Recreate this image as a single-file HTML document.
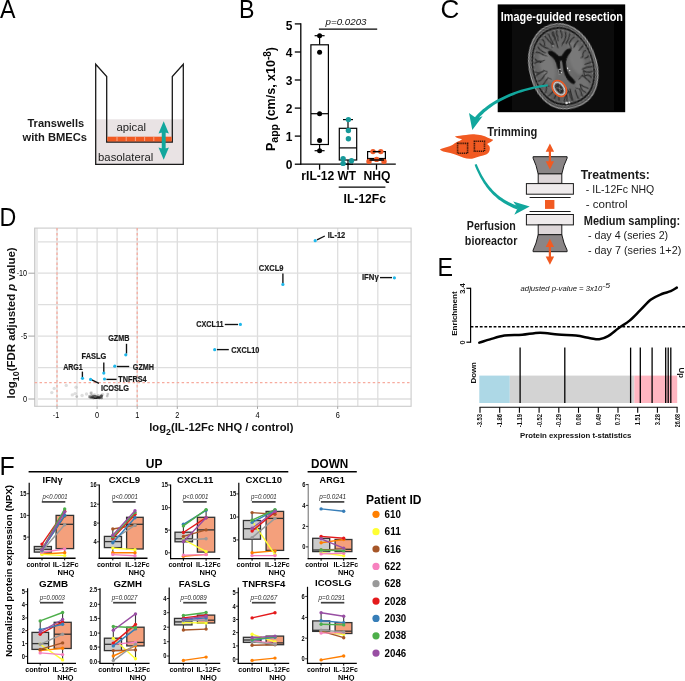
<!DOCTYPE html>
<html lang="en"><head><meta charset="utf-8"><title>Figure</title>
<style>html,body{margin:0;padding:0;background:#fff}svg{display:block}text{font-family:"Liberation Sans", sans-serif;}</style></head><body>
<svg width="685" height="681" viewBox="0 0 685 681">
<rect width="685" height="681" fill="#fff"/>
<g opacity="0.999">
<g id="panel_labels">
<text x="0.0" y="18.0" font-size="25" fill="#000" textLength="15.5" lengthAdjust="spacingAndGlyphs">A</text>
<text x="239.0" y="18.0" font-size="25" fill="#000" textLength="15.5" lengthAdjust="spacingAndGlyphs">B</text>
<text x="440.6" y="18.2" font-size="25" fill="#000" textLength="18.8" lengthAdjust="spacingAndGlyphs">C</text>
<text x="-0.6" y="226.4" font-size="25" fill="#000" textLength="16.8" lengthAdjust="spacingAndGlyphs">D</text>
<text x="437.4" y="276.0" font-size="25" fill="#000" textLength="15.5" lengthAdjust="spacingAndGlyphs">E</text>
<text x="-0.6" y="475.0" font-size="25" fill="#000" textLength="15.3" lengthAdjust="spacingAndGlyphs">F</text>
</g>
<g id="panel_A">
<rect x="96.0" y="119.3" width="87.0" height="45.0" fill="#e9e3e4" />
<path d="M95.7 64.3 L95.7 164.3 L183.3 164.3 L183.3 64.3 L172.3 76.5 L172.3 142 L106.7 142 L106.7 76.5 Z" fill="none" stroke="#1a1a1a" stroke-width="1.3" stroke-linejoin="miter"/>
<rect x="107.3" y="136.7" width="64.4" height="4.8" fill="#f15a22" />
<line x1="117.0" y1="136.7" x2="117.0" y2="141.0" stroke="#f6b79f" stroke-width="0.8" />
<line x1="126.2" y1="136.7" x2="126.2" y2="141.0" stroke="#f6b79f" stroke-width="0.8" />
<line x1="135.4" y1="136.7" x2="135.4" y2="141.0" stroke="#f6b79f" stroke-width="0.8" />
<line x1="144.6" y1="136.7" x2="144.6" y2="141.0" stroke="#f6b79f" stroke-width="0.8" />
<line x1="153.8" y1="136.7" x2="153.8" y2="141.0" stroke="#f6b79f" stroke-width="0.8" />
<line x1="163.0" y1="136.7" x2="163.0" y2="141.0" stroke="#f6b79f" stroke-width="0.8" />
<line x1="163.7" y1="130.0" x2="163.7" y2="151.0" stroke="#12a79d" stroke-width="3.9" />
<path d="M163.7 121.3 L168.89999999999998 133.6 Q163.7 131.4 158.5 133.6 Z" fill="#12a79d"/>
<path d="M163.7 159.7 L168.89999999999998 147.4 Q163.7 149.6 158.5 147.4 Z" fill="#12a79d"/>
<text x="131.3" y="131.3" font-size="10.6" text-anchor="middle" fill="#1a1a1a" textLength="29.6" lengthAdjust="spacingAndGlyphs">apical</text>
<text x="125.7" y="160.7" font-size="10.6" text-anchor="middle" fill="#1a1a1a" textLength="55.2" lengthAdjust="spacingAndGlyphs">basolateral</text>
<text x="55.8" y="126.5" font-size="11.3" font-weight="700" text-anchor="middle" fill="#1a1a1a" textLength="56.8" lengthAdjust="spacingAndGlyphs">Transwells</text>
<text x="54.8" y="141.1" font-size="11.3" font-weight="700" text-anchor="middle" fill="#1a1a1a" textLength="64.6" lengthAdjust="spacingAndGlyphs">with BMECs</text>
</g>
<g id="panel_B">
<line x1="300.8" y1="23.2" x2="300.8" y2="164.8" stroke="#000" stroke-width="1.3" />
<line x1="300.2" y1="164.2" x2="395.8" y2="164.2" stroke="#000" stroke-width="1.3" />
<line x1="294.8" y1="164.2" x2="300.8" y2="164.2" stroke="#000" stroke-width="1.3" />
<text x="292.4" y="168.7" font-size="12.0" font-weight="700" text-anchor="end" fill="#000">0</text>
<line x1="294.8" y1="136.1" x2="300.8" y2="136.1" stroke="#000" stroke-width="1.3" />
<text x="292.4" y="140.6" font-size="12.0" font-weight="700" text-anchor="end" fill="#000">1</text>
<line x1="294.8" y1="108.1" x2="300.8" y2="108.1" stroke="#000" stroke-width="1.3" />
<text x="292.4" y="112.6" font-size="12.0" font-weight="700" text-anchor="end" fill="#000">2</text>
<line x1="294.8" y1="80.0" x2="300.8" y2="80.0" stroke="#000" stroke-width="1.3" />
<text x="292.4" y="84.5" font-size="12.0" font-weight="700" text-anchor="end" fill="#000">3</text>
<line x1="294.8" y1="52.0" x2="300.8" y2="52.0" stroke="#000" stroke-width="1.3" />
<text x="292.4" y="56.5" font-size="12.0" font-weight="700" text-anchor="end" fill="#000">4</text>
<line x1="294.8" y1="23.9" x2="300.8" y2="23.9" stroke="#000" stroke-width="1.3" />
<text x="292.4" y="29.6" font-size="12.0" font-weight="700" text-anchor="end" fill="#000">5</text>
<line x1="319.6" y1="164.2" x2="319.6" y2="169.7" stroke="#000" stroke-width="1.3" />
<line x1="348.0" y1="164.2" x2="348.0" y2="169.7" stroke="#000" stroke-width="1.3" />
<line x1="376.5" y1="164.2" x2="376.5" y2="169.7" stroke="#000" stroke-width="1.3" />
<line x1="318.9" y1="29.2" x2="377.2" y2="29.2" stroke="#000" stroke-width="1.3" />
<text x="346.0" y="25.4" font-size="9.8" font-style="italic" text-anchor="middle" fill="#111" textLength="41.0" lengthAdjust="spacingAndGlyphs">p=0.0203</text>
<line x1="319.6" y1="35.7" x2="319.6" y2="44.8" stroke="#000" stroke-width="1.2" />
<line x1="319.6" y1="144.6" x2="319.6" y2="150.7" stroke="#000" stroke-width="1.2" />
<line x1="314.6" y1="35.7" x2="324.6" y2="35.7" stroke="#000" stroke-width="1.2" />
<line x1="314.6" y1="150.7" x2="324.6" y2="150.7" stroke="#000" stroke-width="1.2" />
<rect x="310.9" y="44.8" width="17.5" height="99.7" fill="#fff" stroke="#000" stroke-width="1.2" />
<line x1="310.9" y1="113.7" x2="328.4" y2="113.7" stroke="#000" stroke-width="1.2" />
<circle cx="319.6" cy="35.7" r="2.5" fill="#000" />
<circle cx="319.6" cy="52.3" r="2.5" fill="#000" />
<circle cx="319.6" cy="113.7" r="2.5" fill="#000" />
<circle cx="319.6" cy="140.4" r="2.5" fill="#000" />
<circle cx="319.6" cy="150.7" r="2.5" fill="#000" />
<line x1="348.0" y1="119.6" x2="348.0" y2="128.3" stroke="#000" stroke-width="1.2" />
<line x1="348.0" y1="160.0" x2="348.0" y2="164.2" stroke="#000" stroke-width="1.2" />
<line x1="343.0" y1="119.6" x2="353.0" y2="119.6" stroke="#000" stroke-width="1.2" />
<line x1="343.0" y1="164.2" x2="353.0" y2="164.2" stroke="#000" stroke-width="1.2" />
<rect x="339.3" y="128.3" width="17.4" height="31.7" fill="#fff" stroke="#000" stroke-width="1.2" />
<line x1="339.3" y1="147.9" x2="356.7" y2="147.9" stroke="#000" stroke-width="1.2" />
<circle cx="348.4" cy="119.6" r="2.7" fill="#17999a" />
<circle cx="348.4" cy="130.5" r="2.7" fill="#17999a" />
<circle cx="348.4" cy="138.7" r="2.7" fill="#17999a" />
<circle cx="343.1" cy="158.6" r="2.7" fill="#17999a" />
<circle cx="351.5" cy="160.8" r="2.7" fill="#17999a" />
<circle cx="343.1" cy="163.4" r="2.7" fill="#17999a" />
<rect x="367.6" y="151.6" width="17.8" height="8.4" fill="#fff" stroke="#000" stroke-width="1.2" />
<line x1="367.6" y1="158.6" x2="385.4" y2="158.6" stroke="#000" stroke-width="1.4" />
<circle cx="373.0" cy="151.6" r="2.7" fill="#f05a28" />
<circle cx="380.8" cy="151.6" r="2.7" fill="#f05a28" />
<circle cx="369.0" cy="161.4" r="2.7" fill="#f05a28" />
<circle cx="376.6" cy="159.4" r="2.7" fill="#f05a28" />
<circle cx="384.0" cy="161.4" r="2.7" fill="#f05a28" />
<line x1="372.8" y1="151.6" x2="380.6" y2="151.6" stroke="#000" stroke-width="1.4" />
<line x1="369.5" y1="160.0" x2="384.0" y2="160.0" stroke="#000" stroke-width="1.4" />
<text x="317.8" y="180.2" font-size="11.9" font-weight="700" text-anchor="middle" fill="#000" textLength="33.0" lengthAdjust="spacingAndGlyphs">rIL-12</text>
<text x="346.8" y="180.2" font-size="11.9" font-weight="700" text-anchor="middle" fill="#000" textLength="18.5" lengthAdjust="spacingAndGlyphs">WT</text>
<text x="377.0" y="180.2" font-size="11.9" font-weight="700" text-anchor="middle" fill="#000" textLength="27.0" lengthAdjust="spacingAndGlyphs">NHQ</text>
<line x1="338.7" y1="187.2" x2="385.4" y2="187.2" stroke="#000" stroke-width="1.2" />
<text x="364.8" y="203.0" font-size="13.0" font-weight="700" text-anchor="middle" fill="#000" textLength="42.4" lengthAdjust="spacingAndGlyphs">IL-12Fc</text>
<text transform="translate(275.2 151) rotate(-90)" font-size="12.6" font-weight="700" fill="#000" textLength="104" lengthAdjust="spacingAndGlyphs">P<tspan font-size="10.6" dy="3">app</tspan><tspan dy="-3"> (cm/s, x10</tspan><tspan font-size="10" dy="-4">-8</tspan><tspan dy="4">)</tspan></text>
</g>
<g id="panel_C">
<rect x="497.7" y="4.4" width="127.5" height="107.8" fill="#000" />
<rect x="511.9" y="8.8" width="102.2" height="101.8" fill="#0c0c0c" />
<defs><radialGradient id="br" cx="50%" cy="50%" r="55%"><stop offset="0" stop-color="#707070"/><stop offset="0.8" stop-color="#666"/><stop offset="1" stop-color="#575757"/></radialGradient><filter id="bl" x="-10%" y="-10%" width="120%" height="120%"><feGaussianBlur stdDeviation="0.6"/></filter><filter id="bl2" x="-20%" y="-20%" width="140%" height="140%"><feGaussianBlur stdDeviation="1.1"/></filter></defs>
<g transform="translate(562.8 66) rotate(-16)">
<g filter="url(#bl)">
<path d="M0 -43 C16 -43 30 -29 33 -6 C36 18 26 43 0 43 C-26 43 -36 18 -33 -6 C-30 -29 -16 -43 0 -43 Z" fill="#4a4a4a" stroke="#a8a8a8" stroke-width="1.2"/>
<path d="M0 -43 C16 -43 30 -29 33 -6 C36 18 26 43 0 43 C-26 43 -36 18 -33 -6 C-30 -29 -16 -43 0 -43 Z" transform="scale(0.935)" fill="#141414" stroke="#909090" stroke-width="0.9"/>
<path d="M0 -43 C16 -43 30 -29 33 -6 C36 18 26 43 0 43 C-26 43 -36 18 -33 -6 C-30 -29 -16 -43 0 -43 Z" transform="scale(0.875)" fill="url(#br)"/>
</g>
<g filter="url(#bl2)">
<ellipse cx="-15" cy="-4" rx="7" ry="17" fill="#7e7e7e" opacity="0.75"/>
<ellipse cx="15" cy="-4" rx="7" ry="17" fill="#7e7e7e" opacity="0.75"/>
<ellipse cx="14" cy="24" rx="7" ry="8" fill="#7a7a7a" opacity="0.6"/>
<ellipse cx="-13" cy="25" rx="6" ry="7" fill="#595959" opacity="0.8"/>
</g>
<g filter="url(#bl)" fill="none" stroke="#2b2b2b" stroke-width="1.15" stroke-linecap="round">
<path d="M-0.4 -36.1 Q-2.3 -32.6 0.4 -29.4"/>
<path d="M0.4 -29.4 L-1.4 -27.0" stroke-width="0.9"/>
<path d="M4.2 -35.6 Q1.9 -33.1 3.2 -29.9"/>
<path d="M3.2 -29.9 L2.4 -25.4" stroke-width="0.9"/>
<path d="M7.5 -34.5 Q8.7 -30.1 6.6 -27.3"/>
<path d="M12.0 -31.9 Q11.2 -25.2 6.1 -21.7"/>
<path d="M6.1 -21.7 L4.8 -19.8" stroke-width="0.9"/>
<path d="M15.5 -28.9 Q13.4 -23.9 9.4 -20.7"/>
<path d="M19.1 -24.7 Q15.0 -23.4 12.4 -20.1"/>
<path d="M12.4 -20.1 L13.1 -14.4" stroke-width="0.9"/>
<path d="M22.0 -20.2 Q18.4 -18.5 15.8 -14.9"/>
<path d="M24.9 -14.0 Q22.4 -12.4 20.0 -10.6"/>
<path d="M26.8 -8.2 Q23.2 -9.7 21.7 -3.2"/>
<path d="M21.7 -3.2 L19.7 -3.0" stroke-width="0.9"/>
<path d="M27.8 -3.0 Q25.8 -1.0 23.4 -1.3"/>
<path d="M28.1 4.1 Q25.0 4.3 21.9 4.5"/>
<path d="M27.6 8.7 Q23.1 7.2 18.1 8.4"/>
<path d="M26.6 13.3 Q21.7 14.1 18.5 10.2"/>
<path d="M24.4 19.2 Q22.7 14.3 18.3 15.7"/>
<path d="M18.3 15.7 L18.3 10.2" stroke-width="0.9"/>
<path d="M22.0 23.5 Q19.3 18.6 16.2 14.4"/>
<path d="M16.2 14.4 L11.7 17.2" stroke-width="0.9"/>
<path d="M18.0 28.4 Q14.3 25.8 11.6 22.3"/>
<path d="M14.4 31.4 Q10.9 28.8 11.6 23.5"/>
<path d="M10.3 33.8 Q10.6 29.9 9.8 26.7"/>
<path d="M9.8 26.7 L6.7 25.0" stroke-width="0.9"/>
<path d="M6.0 35.4 Q5.0 31.2 5.3 26.7"/>
<path d="M-0.5 36.1 Q-1.3 31.4 -1.0 26.7"/>
<path d="M-1.0 26.7 L-3.4 21.9" stroke-width="0.9"/>
<path d="M-5.7 35.4 Q-4.3 29.9 -3.4 24.3"/>
<path d="M-3.4 24.3 L-4.6 21.6" stroke-width="0.9"/>
<path d="M-8.5 34.6 Q-6.9 31.4 -5.0 28.3"/>
<path d="M-5.0 28.3 L-1.6 26.3" stroke-width="0.9"/>
<path d="M-13.1 32.3 Q-13.3 27.5 -7.7 26.2"/>
<path d="M-17.2 29.1 Q-14.9 26.6 -13.0 23.7"/>
<path d="M-13.0 23.7 L-13.4 16.6" stroke-width="0.9"/>
<path d="M-21.3 24.5 Q-17.2 23.2 -14.4 20.2"/>
<path d="M-14.4 20.2 L-11.9 16.8" stroke-width="0.9"/>
<path d="M-23.7 20.6 Q-21.9 18.8 -21.2 14.5"/>
<path d="M-21.2 14.5 L-18.7 15.6" stroke-width="0.9"/>
<path d="M-26.3 14.4 Q-21.9 10.8 -17.5 7.4"/>
<path d="M-17.5 7.4 L-14.7 9.4" stroke-width="0.9"/>
<path d="M-27.7 8.1 Q-23.9 8.1 -20.6 4.2"/>
<path d="M-20.6 4.2 L-16.8 1.9" stroke-width="0.9"/>
<path d="M-28.2 1.9 Q-23.7 0.2 -19.1 -0.6"/>
<path d="M-19.1 -0.6 L-16.7 1.0" stroke-width="0.9"/>
<path d="M-28.0 -1.6 Q-25.9 0.1 -23.6 0.3"/>
<path d="M-26.2 -10.2 Q-22.0 -11.9 -18.9 -10.4"/>
<path d="M-24.8 -14.1 Q-23.0 -10.9 -20.5 -9.6"/>
<path d="M-20.5 -9.6 L-16.1 -10.6" stroke-width="0.9"/>
<path d="M-21.8 -20.6 Q-18.1 -19.5 -15.8 -16.2"/>
<path d="M-15.8 -16.2 L-12.6 -13.9" stroke-width="0.9"/>
<path d="M-18.8 -25.1 Q-17.0 -19.8 -13.1 -17.3"/>
<path d="M-16.2 -28.2 Q-14.0 -23.3 -9.4 -20.9"/>
<path d="M-9.4 -20.9 L-6.6 -18.1" stroke-width="0.9"/>
<path d="M-12.8 -31.3 Q-9.9 -29.7 -12.0 -24.3"/>
<path d="M-9.0 -33.8 Q-6.9 -28.7 -4.2 -23.8"/>
<path d="M-4.2 -23.8 L-5.1 -20.7" stroke-width="0.9"/>
<path d="M-5.2 -35.4 Q-4.2 -29.2 -2.8 -23.1"/>
<path d="M0 -37 L0.4 -19"/><path d="M0.6 24 L0 37"/>
</g>
<g filter="url(#bl)" fill="none" stroke="#8c8c8c" stroke-width="0.8" stroke-dasharray="2.4 3.1">
<path d="M0 -43 C16 -43 30 -29 33 -6 C36 18 26 43 0 43 C-26 43 -36 18 -33 -6 C-30 -29 -16 -43 0 -43 Z" transform="scale(0.85)"/>
</g>
<g filter="url(#bl)" fill="#0a0a0a" stroke="#0a0a0a" stroke-width="1.0" stroke-linejoin="round" transform="translate(0 -8) rotate(9) scale(0.84 0.93) translate(0 8)">
<path d="M-1.2 -9 C-4 -13.5 -8.5 -17.5 -13 -17 C-14.5 -15.5 -12.5 -13 -10.5 -11.5 C-7.5 -9 -5.6 -5.5 -5 -1 C-4.4 3 -4.6 6 -4 8 L-2.2 8 C-2.4 3 -2 -3 -1.2 -9 Z"/>
<path d="M1.2 -9 C4 -13.5 8.5 -17.5 13 -17 C14.5 -15.5 12.5 -13 10.5 -11.5 C7.5 -9 5.6 -5.5 5 -1 C4.6 3 5.6 7 7.4 10.6 C9.4 14 12.6 15.8 13.4 19 C13.4 21.2 10.6 21 8.6 19.2 C5.4 16 3.2 11.6 2.4 7 C2 2 1.6 -4 1.2 -9 Z"/>
<path d="M-1.6 -10 L1.6 -10 L1 -5 L-1 -5 Z"/>
<path d="M0.2 -5.5 L-1.2 9" stroke="#707070" stroke-width="1.5" fill="none"/>
<path d="M-4.6 3 L-3.6 9.5" stroke="#bdbdbd" stroke-width="0.8" fill="none"/>
</g>
<g fill="#e6e6e6"><circle cx="-3.6" cy="2.4" r="0.7"/><circle cx="-3.2" cy="6" r="0.6"/><circle cx="4" cy="3.4" r="0.7"/><circle cx="5.4" cy="6.4" r="0.6"/><circle cx="-4" cy="-22" r="0.6"/></g>
</g>
<g filter="url(#bl)" fill="#d8d8d8"><circle cx="566.6" cy="103" r="1.3"/><circle cx="569.4" cy="102.4" r="0.9"/></g>
<g filter="url(#bl)" transform="rotate(-35 559.2 88.5)"><ellipse cx="559.2" cy="88.5" rx="6" ry="8.8" fill="#3c3c3c"/><ellipse cx="559.2" cy="88.5" rx="4.6" ry="7.2" fill="none" stroke="#cfcfcf" stroke-width="1.7"/><ellipse cx="559.4" cy="89.2" rx="2.4" ry="4.2" fill="#262626"/><path d="M557.6 86 L561 91 M560.6 86.4 L558.2 91.6" stroke="#9a9a9a" stroke-width="0.7"/></g>
<ellipse cx="559.3" cy="88.5" rx="6.4" ry="8.8" fill="none" stroke="#f15a22" stroke-width="1.5" transform="rotate(-35 559.3 88.5)"/>
<text x="561.9" y="20.9" font-size="12.2" font-weight="700" text-anchor="middle" fill="#fff" textLength="122.2" lengthAdjust="spacingAndGlyphs">Image-guided resection</text>
<path d="M547.7 84.3 L544.7 84.7 L541.7 85.1 L538.7 85.6 L535.7 86.2 L532.7 86.8 L529.7 87.4 L526.8 88.2 L523.9 89.0 L520.9 89.8 L518.1 90.7 L515.2 91.7 L512.4 92.7 L509.6 93.8 L506.9 95.0 L504.2 96.2 L501.6 97.4 L499.0 98.7 L496.4 100.1 L494.0 101.6 L491.6 103.1 L489.2 104.6 L486.9 106.2 L484.7 107.9 L482.6 109.6 L480.5 111.4 L478.6 113.3 L476.7 115.2 L474.9 117.2 L477.5 119.4 L479.2 117.5 L480.9 115.7 L482.8 113.9 L484.7 112.1 L486.7 110.4 L488.8 108.8 L491.0 107.2 L493.2 105.6 L495.5 104.1 L497.9 102.7 L500.4 101.3 L502.9 100.0 L505.4 98.7 L508.0 97.5 L510.7 96.3 L513.4 95.2 L516.1 94.1 L518.9 93.1 L521.7 92.2 L524.5 91.3 L527.4 90.5 L530.3 89.7 L533.2 89.0 L536.1 88.3 L539.1 87.7 L542.0 87.2 L545.0 86.7 L547.9 86.3 Z" fill="#12a79d"/>
<path d="M472.3 129.9 L469.0 112.9 L474.6 116.9 L478.4 117.7 L482.6 116.3 Z" fill="#12a79d"/>
<path d="M439.9 149.5 C442 148.3 444 147.9 446.2 147.3 C448.6 146.5 450.6 145.9 452.4 144.9 C454 143.6 455.4 142.6 457 141.9 C459 141.2 460.8 140.2 462.1 139.3 C459.6 138.6 456.6 137.8 454.9 136.4 C457.5 135.6 462 135.4 466 134.9 C469 134.5 472.5 134.1 476 134.6 C479 135 481 135.3 483 135.7 C485.5 136.3 487.5 137.5 489.2 138.3 C490.8 139 492.6 139.4 493.2 140.1 C492.6 141 491.6 141.5 490.7 141.9 C489.4 142.6 488 143.2 487.1 143.9 C488.4 144.8 489.5 145.8 489.7 147 C490 148.6 489.8 150.2 489.2 151.6 C488.6 153 487.4 154 486.1 154.6 C484.2 155.4 482 155.8 480 156.2 C477.8 156.8 475.8 157.7 473.8 158.2 C472.4 158.6 471 158.8 469.7 158.7 C467.6 158.6 465.6 158.2 463.6 157.7 C461.8 157.2 460.2 156.3 458.5 155.7 C455.8 154.7 453 153.9 450.3 153.1 C447.8 152.5 445.4 152 443.2 151.4 C441.8 150.9 440.4 150.3 439.9 149.5 Z" fill="#f15a22"/>
<rect x="457.6" y="143.4" width="10.0" height="9.9" fill="none" stroke="#3b1608" stroke-width="1.6" stroke-dasharray="1.15 0.72"/>
<rect x="474.4" y="141.3" width="10.1" height="9.9" fill="none" stroke="#3b1608" stroke-width="1.6" stroke-dasharray="1.15 0.72"/>
<text x="487.3" y="135.8" font-size="12.0" font-weight="700" fill="#1a1a1a" textLength="50.0" lengthAdjust="spacingAndGlyphs">Trimming</text>
<path d="M474.6 164.8 L475.6 167.4 L476.7 169.9 L477.8 172.3 L478.9 174.6 L480.1 176.9 L481.3 179.1 L482.5 181.1 L483.8 183.2 L485.1 185.1 L486.4 187.0 L487.8 188.7 L489.2 190.5 L490.7 192.1 L492.2 193.7 L493.7 195.2 L495.3 196.6 L496.9 198.0 L498.5 199.4 L500.2 200.6 L502.0 201.8 L503.8 203.0 L505.6 204.1 L507.4 205.1 L509.4 206.1 L511.3 207.0 L513.3 207.9 L515.3 208.8 L517.4 209.5 L518.6 206.3 L516.6 205.5 L514.6 204.8 L512.7 204.0 L510.8 203.1 L509.0 202.2 L507.2 201.3 L505.4 200.3 L503.7 199.2 L502.0 198.1 L500.4 196.9 L498.8 195.7 L497.2 194.4 L495.7 193.1 L494.2 191.7 L492.7 190.2 L491.3 188.6 L489.9 187.0 L488.5 185.3 L487.2 183.6 L485.9 181.7 L484.6 179.8 L483.4 177.8 L482.2 175.7 L481.0 173.6 L479.9 171.3 L478.8 169.0 L477.7 166.5 L476.6 164.0 Z" fill="#12a79d"/>
<path d="M529.7 206.5 L513.2 201.4 L517.8 207.7 L514.3 214.8 Z" fill="#12a79d"/>
<text x="491.3" y="229.8" font-size="12.0" font-weight="700" text-anchor="middle" fill="#1a1a1a" textLength="49.0" lengthAdjust="spacingAndGlyphs">Perfusion</text>
<text x="491.1" y="244.6" font-size="12.0" font-weight="700" text-anchor="middle" fill="#1a1a1a" textLength="52.5" lengthAdjust="spacingAndGlyphs">bioreactor</text>
<path d="M533.1 156.7 L567.1 156.7 L567.1 158.2 Q563.6 165 561.8 173.9 L538.2 173.9 Q536.4 165 533.1 158.2 Z" fill="#8a8586" stroke="#1a1a1a" stroke-width="1"/>
<rect x="538.2" y="173.9" width="23.6" height="9.5" fill="#ddd6d8" stroke="#1a1a1a" stroke-width="1" />
<rect x="526.4" y="183.6" width="47.0" height="10.6" fill="#efebec" stroke="#1a1a1a" stroke-width="1" />
<line x1="529.6" y1="197.5" x2="570.6" y2="197.5" stroke="#1a1a1a" stroke-width="1.1" />
<rect x="545.0" y="200.0" width="9.4" height="8.9" fill="#f15a22" />
<line x1="529.6" y1="211.5" x2="570.6" y2="211.5" stroke="#1a1a1a" stroke-width="1.1" />
<rect x="526.4" y="214.5" width="47.0" height="10.4" fill="#efebec" stroke="#1a1a1a" stroke-width="1" />
<rect x="538.2" y="224.9" width="23.6" height="9.8" fill="#ddd6d8" stroke="#1a1a1a" stroke-width="1" />
<path d="M538.2 234.7 L561.8 234.7 Q563.6 243.6 567.1 250.2 L567.1 251.7 L533.1 251.7 L533.1 250.2 Q536.4 243.6 538.2 234.7 Z" fill="#8a8586" stroke="#1a1a1a" stroke-width="1"/>
<line x1="549.9" y1="148.6" x2="549.9" y2="164.4" stroke="#f15a22" stroke-width="2.2" />
<path d="M549.9 143.6 L554.1 151.79999999999998 L545.6999999999999 151.79999999999998 Z" fill="#f15a22"/>
<path d="M549.9 169.4 L554.1 161.20000000000002 L545.6999999999999 161.20000000000002 Z" fill="#f15a22"/>
<line x1="549.9" y1="243.8" x2="549.9" y2="259.8" stroke="#f15a22" stroke-width="2.2" />
<path d="M549.9 238.8 L554.1 247.0 L545.6999999999999 247.0 Z" fill="#f15a22"/>
<path d="M549.9 264.8 L554.1 256.6 L545.6999999999999 256.6 Z" fill="#f15a22"/>
<text x="580.8" y="178.8" font-size="12.0" font-weight="700" fill="#1a1a1a" textLength="69.0" lengthAdjust="spacingAndGlyphs">Treatments:</text>
<text x="585.8" y="192.7" font-size="10.7" fill="#1a1a1a" textLength="68.5" lengthAdjust="spacingAndGlyphs">- IL-12Fc NHQ</text>
<text x="585.8" y="207.6" font-size="10.7" fill="#1a1a1a" textLength="41.7" lengthAdjust="spacingAndGlyphs">- control</text>
<text x="583.8" y="225.1" font-size="12.0" font-weight="700" fill="#1a1a1a" textLength="96.4" lengthAdjust="spacingAndGlyphs">Medium sampling:</text>
<text x="587.9" y="239.0" font-size="10.7" fill="#1a1a1a" textLength="80.3" lengthAdjust="spacingAndGlyphs">- day 4 (series 2)</text>
<text x="587.9" y="253.8" font-size="10.7" fill="#1a1a1a" textLength="93.4" lengthAdjust="spacingAndGlyphs">- day 7 (series 1+2)</text>
</g>
<g id="panel_D">
<rect x="34.6" y="228.1" width="376.5" height="178.2" fill="#fff" />
<line x1="36.9" y1="228.1" x2="36.9" y2="406.3" stroke="#dedede" stroke-width="1.3" />
<line x1="57.0" y1="228.1" x2="57.0" y2="406.3" stroke="#dedede" stroke-width="1.3" />
<line x1="77.0" y1="228.1" x2="77.0" y2="406.3" stroke="#dedede" stroke-width="1.3" />
<line x1="97.1" y1="228.1" x2="97.1" y2="406.3" stroke="#dedede" stroke-width="1.3" />
<line x1="117.1" y1="228.1" x2="117.1" y2="406.3" stroke="#dedede" stroke-width="1.3" />
<line x1="137.2" y1="228.1" x2="137.2" y2="406.3" stroke="#dedede" stroke-width="1.3" />
<line x1="157.2" y1="228.1" x2="157.2" y2="406.3" stroke="#dedede" stroke-width="1.3" />
<line x1="177.3" y1="228.1" x2="177.3" y2="406.3" stroke="#dedede" stroke-width="1.3" />
<line x1="217.4" y1="228.1" x2="217.4" y2="406.3" stroke="#dedede" stroke-width="1.3" />
<line x1="257.5" y1="228.1" x2="257.5" y2="406.3" stroke="#dedede" stroke-width="1.3" />
<line x1="297.6" y1="228.1" x2="297.6" y2="406.3" stroke="#dedede" stroke-width="1.3" />
<line x1="337.7" y1="228.1" x2="337.7" y2="406.3" stroke="#dedede" stroke-width="1.3" />
<line x1="357.8" y1="228.1" x2="357.8" y2="406.3" stroke="#dedede" stroke-width="1.3" />
<line x1="377.8" y1="228.1" x2="377.8" y2="406.3" stroke="#dedede" stroke-width="1.3" />
<line x1="34.6" y1="399.0" x2="411.1" y2="399.0" stroke="#dedede" stroke-width="1.3" />
<line x1="34.6" y1="367.6" x2="411.1" y2="367.6" stroke="#dedede" stroke-width="1.3" />
<line x1="34.6" y1="336.1" x2="411.1" y2="336.1" stroke="#dedede" stroke-width="1.3" />
<line x1="34.6" y1="304.6" x2="411.1" y2="304.6" stroke="#dedede" stroke-width="1.3" />
<line x1="34.6" y1="273.2" x2="411.1" y2="273.2" stroke="#dedede" stroke-width="1.3" />
<line x1="34.6" y1="241.8" x2="411.1" y2="241.8" stroke="#dedede" stroke-width="1.3" />
<rect x="35.0" y="228.1" width="3.0" height="178.2" fill="#ebebeb" />
<rect x="34.6" y="228.1" width="376.5" height="178.2" fill="none" stroke="#cbcbcb" stroke-width="1.1" />
<line x1="57.0" y1="228.1" x2="57.0" y2="406.3" stroke="#f7ab9e" stroke-width="1.3" stroke-dasharray="2.5 2.4"/>
<line x1="137.2" y1="228.1" x2="137.2" y2="406.3" stroke="#f7ab9e" stroke-width="1.3" stroke-dasharray="2.5 2.4"/>
<line x1="34.6" y1="382.6" x2="411.1" y2="382.6" stroke="#f7ab9e" stroke-width="1.3" stroke-dasharray="2.5 2.4"/>
<line x1="28.4" y1="399.0" x2="34.6" y2="399.0" stroke="#9a9a9a" stroke-width="0.9" />
<text x="27.1" y="401.9" font-size="8.4" text-anchor="end" fill="#000" textLength="4.1" lengthAdjust="spacingAndGlyphs">0</text>
<line x1="28.4" y1="336.1" x2="34.6" y2="336.1" stroke="#9a9a9a" stroke-width="0.9" />
<text x="27.1" y="339.0" font-size="8.4" text-anchor="end" fill="#000" textLength="6.3" lengthAdjust="spacingAndGlyphs">-5</text>
<line x1="28.4" y1="273.2" x2="34.6" y2="273.2" stroke="#9a9a9a" stroke-width="0.9" />
<text x="27.1" y="276.1" font-size="8.4" text-anchor="end" fill="#000" textLength="10.4" lengthAdjust="spacingAndGlyphs">-10</text>
<line x1="57.0" y1="406.3" x2="57.0" y2="408.9" stroke="#9a9a9a" stroke-width="0.9" />
<text x="56.0" y="417.5" font-size="8.4" text-anchor="middle" fill="#000" textLength="6.3" lengthAdjust="spacingAndGlyphs">-1</text>
<line x1="97.1" y1="406.3" x2="97.1" y2="408.9" stroke="#9a9a9a" stroke-width="0.9" />
<text x="97.1" y="417.5" font-size="8.4" text-anchor="middle" fill="#000" textLength="4.1" lengthAdjust="spacingAndGlyphs">0</text>
<line x1="137.2" y1="406.3" x2="137.2" y2="408.9" stroke="#9a9a9a" stroke-width="0.9" />
<text x="137.2" y="417.5" font-size="8.4" text-anchor="middle" fill="#000" textLength="4.1" lengthAdjust="spacingAndGlyphs">1</text>
<line x1="177.3" y1="406.3" x2="177.3" y2="408.9" stroke="#9a9a9a" stroke-width="0.9" />
<text x="177.3" y="417.5" font-size="8.4" text-anchor="middle" fill="#000" textLength="4.1" lengthAdjust="spacingAndGlyphs">2</text>
<line x1="257.5" y1="406.3" x2="257.5" y2="408.9" stroke="#9a9a9a" stroke-width="0.9" />
<text x="257.5" y="417.5" font-size="8.4" text-anchor="middle" fill="#000" textLength="4.1" lengthAdjust="spacingAndGlyphs">4</text>
<line x1="337.7" y1="406.3" x2="337.7" y2="408.9" stroke="#9a9a9a" stroke-width="0.9" />
<text x="337.7" y="417.5" font-size="8.4" text-anchor="middle" fill="#000" textLength="4.1" lengthAdjust="spacingAndGlyphs">6</text>
<circle cx="51.8" cy="392.6" r="1.7" fill="#a8a8a8" opacity="0.38"/>
<circle cx="54.2" cy="388.4" r="1.7" fill="#a8a8a8" opacity="0.38"/>
<circle cx="66.2" cy="385.4" r="1.7" fill="#a8a8a8" opacity="0.38"/>
<circle cx="76.0" cy="387.3" r="1.7" fill="#a8a8a8" opacity="0.38"/>
<circle cx="72.3" cy="394.9" r="1.7" fill="#a8a8a8" opacity="0.38"/>
<circle cx="75.1" cy="393.6" r="1.7" fill="#a8a8a8" opacity="0.38"/>
<circle cx="82.1" cy="395.5" r="1.7" fill="#a8a8a8" opacity="0.38"/>
<circle cx="91.2" cy="392.6" r="1.7" fill="#a8a8a8" opacity="0.38"/>
<circle cx="102.6" cy="394.5" r="1.7" fill="#a8a8a8" opacity="0.38"/>
<circle cx="100.3" cy="396.8" r="1.7" fill="#a8a8a8" opacity="0.38"/>
<circle cx="86.5" cy="394.0" r="1.7" fill="#a8a8a8" opacity="0.38"/>
<circle cx="94.5" cy="394.6" r="1.7" fill="#a8a8a8" opacity="0.38"/>
<g filter="url(#bl)">
<circle cx="96.5" cy="396.9" r="1.3" fill="#222" opacity="0.5"/>
<circle cx="93.5" cy="397.1" r="1.3" fill="#222" opacity="0.5"/>
<circle cx="95.4" cy="397.8" r="1.3" fill="#222" opacity="0.5"/>
<circle cx="101.7" cy="397.9" r="1.3" fill="#222" opacity="0.5"/>
<circle cx="96.1" cy="397.3" r="1.3" fill="#222" opacity="0.5"/>
<circle cx="99.5" cy="398.0" r="1.3" fill="#222" opacity="0.5"/>
<circle cx="97.9" cy="397.1" r="1.3" fill="#222" opacity="0.5"/>
<circle cx="95.1" cy="397.6" r="1.3" fill="#222" opacity="0.5"/>
<circle cx="92.3" cy="396.6" r="1.3" fill="#222" opacity="0.5"/>
<circle cx="91.5" cy="397.8" r="1.3" fill="#222" opacity="0.5"/>
<circle cx="95.7" cy="397.7" r="1.3" fill="#222" opacity="0.5"/>
<circle cx="96.4" cy="396.8" r="1.3" fill="#222" opacity="0.5"/>
<circle cx="96.0" cy="397.8" r="1.3" fill="#222" opacity="0.5"/>
<circle cx="98.4" cy="397.2" r="1.3" fill="#222" opacity="0.5"/>
<circle cx="95.0" cy="396.2" r="1.3" fill="#222" opacity="0.5"/>
<circle cx="94.7" cy="396.0" r="1.3" fill="#222" opacity="0.5"/>
<circle cx="92.1" cy="397.0" r="1.3" fill="#222" opacity="0.5"/>
<circle cx="89.8" cy="397.3" r="1.3" fill="#222" opacity="0.5"/>
<circle cx="97.2" cy="397.7" r="1.3" fill="#222" opacity="0.5"/>
<circle cx="97.5" cy="397.5" r="1.3" fill="#222" opacity="0.5"/>
<circle cx="99.2" cy="397.8" r="1.3" fill="#222" opacity="0.5"/>
<circle cx="94.5" cy="397.5" r="1.3" fill="#222" opacity="0.5"/>
<circle cx="93.3" cy="398.0" r="1.3" fill="#222" opacity="0.5"/>
<circle cx="93.9" cy="397.0" r="1.3" fill="#222" opacity="0.5"/>
<circle cx="90.8" cy="397.0" r="1.3" fill="#222" opacity="0.5"/>
<circle cx="93.4" cy="396.1" r="1.3" fill="#222" opacity="0.5"/>
<circle cx="101.7" cy="395.8" r="1.3" fill="#222" opacity="0.5"/>
<circle cx="95.4" cy="397.5" r="1.3" fill="#222" opacity="0.5"/>
<circle cx="101.0" cy="396.2" r="1.3" fill="#222" opacity="0.5"/>
<circle cx="99.3" cy="397.3" r="1.3" fill="#222" opacity="0.5"/>
<circle cx="95.7" cy="397.4" r="1.3" fill="#222" opacity="0.5"/>
<circle cx="98.1" cy="397.0" r="1.3" fill="#222" opacity="0.5"/>
<circle cx="96.0" cy="397.7" r="1.3" fill="#222" opacity="0.5"/>
<circle cx="101.5" cy="395.8" r="1.3" fill="#222" opacity="0.5"/>
<circle cx="100.6" cy="397.1" r="1.3" fill="#222" opacity="0.5"/>
<circle cx="94.8" cy="397.7" r="1.3" fill="#222" opacity="0.5"/>
<circle cx="94.8" cy="396.5" r="1.3" fill="#222" opacity="0.5"/>
<circle cx="96.8" cy="397.8" r="1.3" fill="#222" opacity="0.5"/>
<circle cx="95.5" cy="397.8" r="1.3" fill="#222" opacity="0.5"/>
<circle cx="95.7" cy="397.2" r="1.3" fill="#222" opacity="0.5"/>
<circle cx="107.8" cy="394.1" r="1.4" fill="#777" opacity="0.4"/>
<circle cx="76.7" cy="396.6" r="1.4" fill="#777" opacity="0.4"/>
<circle cx="95.7" cy="396.3" r="1.4" fill="#777" opacity="0.4"/>
<circle cx="95.4" cy="396.6" r="1.4" fill="#777" opacity="0.4"/>
<circle cx="98.3" cy="395.4" r="1.4" fill="#777" opacity="0.4"/>
<circle cx="94.0" cy="396.3" r="1.4" fill="#777" opacity="0.4"/>
<circle cx="107.2" cy="396.1" r="1.4" fill="#777" opacity="0.4"/>
<circle cx="91.1" cy="393.5" r="1.4" fill="#777" opacity="0.4"/>
<circle cx="100.8" cy="396.0" r="1.4" fill="#777" opacity="0.4"/>
<circle cx="90.0" cy="396.4" r="1.4" fill="#777" opacity="0.4"/>
<circle cx="91.9" cy="395.3" r="1.4" fill="#777" opacity="0.4"/>
<circle cx="89.4" cy="396.1" r="1.4" fill="#777" opacity="0.4"/>
</g>
<line x1="317.0" y1="239.8" x2="324.8" y2="236.0" stroke="#111" stroke-width="1.35" />
<line x1="282.9" y1="273.6" x2="282.9" y2="283.2" stroke="#111" stroke-width="1.35" />
<line x1="380.0" y1="277.6" x2="392.0" y2="277.6" stroke="#111" stroke-width="1.35" />
<line x1="224.8" y1="324.5" x2="238.0" y2="324.5" stroke="#111" stroke-width="1.35" />
<line x1="217.0" y1="349.6" x2="228.8" y2="349.6" stroke="#111" stroke-width="1.35" />
<line x1="126.5" y1="343.8" x2="126.5" y2="353.6" stroke="#111" stroke-width="1.35" />
<line x1="117.0" y1="366.5" x2="129.2" y2="366.5" stroke="#111" stroke-width="1.35" />
<line x1="103.8" y1="362.4" x2="103.8" y2="372.0" stroke="#111" stroke-width="1.35" />
<line x1="82.4" y1="371.6" x2="82.4" y2="377.2" stroke="#111" stroke-width="1.35" />
<line x1="106.4" y1="379.4" x2="116.6" y2="379.4" stroke="#111" stroke-width="1.35" />
<line x1="91.8" y1="379.9" x2="99.0" y2="383.4" stroke="#111" stroke-width="1.35" />
<circle cx="315.2" cy="240.7" r="1.6" fill="#1fb7ea" />
<circle cx="282.9" cy="284.4" r="1.6" fill="#1fb7ea" />
<circle cx="394.4" cy="277.8" r="1.6" fill="#1fb7ea" />
<circle cx="240.4" cy="324.4" r="1.6" fill="#1fb7ea" />
<circle cx="214.7" cy="349.7" r="1.6" fill="#1fb7ea" />
<circle cx="125.8" cy="354.8" r="1.6" fill="#1fb7ea" />
<circle cx="114.8" cy="366.2" r="1.6" fill="#1fb7ea" />
<circle cx="103.8" cy="373.1" r="1.6" fill="#1fb7ea" />
<circle cx="82.5" cy="378.3" r="1.6" fill="#1fb7ea" />
<circle cx="104.5" cy="379.0" r="1.6" fill="#1fb7ea" />
<circle cx="90.6" cy="379.4" r="1.6" fill="#1fb7ea" />
<text x="327.8" y="237.9" font-size="8.9" font-weight="700" fill="#1a1a1a" textLength="17.4" lengthAdjust="spacingAndGlyphs" stroke="#1a1a1a" stroke-width="0.2">IL-12</text>
<text x="258.8" y="270.9" font-size="8.9" font-weight="700" fill="#1a1a1a" textLength="24.6" lengthAdjust="spacingAndGlyphs" stroke="#1a1a1a" stroke-width="0.2">CXCL9</text>
<text x="361.9" y="280.2" font-size="8.9" font-weight="700" fill="#1a1a1a" textLength="16.8" lengthAdjust="spacingAndGlyphs" stroke="#1a1a1a" stroke-width="0.2">IFNγ</text>
<text x="196.2" y="327.3" font-size="8.9" font-weight="700" fill="#1a1a1a" textLength="27.4" lengthAdjust="spacingAndGlyphs" stroke="#1a1a1a" stroke-width="0.2">CXCL11</text>
<text x="231.3" y="352.7" font-size="8.9" font-weight="700" fill="#1a1a1a" textLength="28.0" lengthAdjust="spacingAndGlyphs" stroke="#1a1a1a" stroke-width="0.2">CXCL10</text>
<text x="108.2" y="341.2" font-size="8.9" font-weight="700" fill="#1a1a1a" textLength="21.3" lengthAdjust="spacingAndGlyphs" stroke="#1a1a1a" stroke-width="0.2">GZMB</text>
<text x="132.8" y="369.8" font-size="8.9" font-weight="700" fill="#1a1a1a" textLength="21.3" lengthAdjust="spacingAndGlyphs" stroke="#1a1a1a" stroke-width="0.2">GZMH</text>
<text x="81.5" y="358.8" font-size="8.9" font-weight="700" fill="#1a1a1a" textLength="24.8" lengthAdjust="spacingAndGlyphs" stroke="#1a1a1a" stroke-width="0.2">FASLG</text>
<text x="63.2" y="369.8" font-size="8.9" font-weight="700" fill="#1a1a1a" textLength="19.6" lengthAdjust="spacingAndGlyphs" stroke="#1a1a1a" stroke-width="0.2">ARG1</text>
<text x="118.2" y="381.7" font-size="8.9" font-weight="700" fill="#1a1a1a" textLength="28.4" lengthAdjust="spacingAndGlyphs" stroke="#1a1a1a" stroke-width="0.2">TNFRS4</text>
<text x="100.9" y="390.9" font-size="8.9" font-weight="700" fill="#1a1a1a" textLength="28.2" lengthAdjust="spacingAndGlyphs" stroke="#1a1a1a" stroke-width="0.2">ICOSLG</text>
<text x="221.3" y="430.9" text-anchor="middle" font-size="11" font-weight="700" fill="#111" textLength="144.2" lengthAdjust="spacingAndGlyphs">log<tspan font-size="8.6" dy="3.6">2</tspan><tspan dy="-3.6">(IL-12Fc NHQ / control)</tspan></text>
<text transform="translate(15.0 322.9) rotate(-90)" text-anchor="middle" font-size="11" font-weight="700" fill="#111" textLength="151" lengthAdjust="spacingAndGlyphs">log<tspan font-size="8.6" dy="3.6">10</tspan><tspan dy="-3.6">(FDR adjusted </tspan><tspan font-style="italic">p</tspan><tspan> value)</tspan></text>
</g>
<g id="panel_E">
<line x1="470.6" y1="287.7" x2="470.6" y2="342.8" stroke="#000" stroke-width="1.2" />
<line x1="466.4" y1="288.3" x2="470.6" y2="288.3" stroke="#000" stroke-width="1.2" />
<line x1="466.4" y1="342.2" x2="470.6" y2="342.2" stroke="#000" stroke-width="1.2" />
<text x="464.6" y="342.6" font-size="7.2" font-weight="700" text-anchor="middle" fill="#111" transform="rotate(-90 464.6 342.6)">0</text>
<text x="464.6" y="288.6" font-size="7.2" font-weight="700" text-anchor="middle" fill="#111" textLength="10.5" lengthAdjust="spacingAndGlyphs" transform="rotate(-90 464.6 288.6)">3.4</text>
<text x="456.6" y="313.6" font-size="7.3" font-weight="700" text-anchor="middle" fill="#111" textLength="44.5" lengthAdjust="spacingAndGlyphs" transform="rotate(-90 456.6 313.6)">Enrichment</text>
<line x1="470.6" y1="326.8" x2="685.0" y2="326.8" stroke="#000" stroke-width="1.5" stroke-dasharray="2.8 1.8"/>
<path d="M479.3 342.6 C481.1 342.1 485.8 340.6 490.0 339.4 C494.2 338.2 499.0 336.4 504.4 335.6 C509.8 334.8 516.3 335.3 522.3 334.8 C528.2 334.3 534.1 332.7 540.1 332.7 C546.1 332.7 552.0 334.1 558.0 334.6 C564.0 335.1 570.5 335.0 575.9 335.6 C581.3 336.2 586.3 337.6 590.2 338.2 C594.1 338.8 596.2 339.6 599.2 339.3 C602.2 339.0 604.8 338.1 608.1 336.2 C611.4 334.3 615.2 330.6 618.8 328.0 C622.4 325.4 626.0 323.6 629.6 320.6 C633.2 317.6 636.7 313.7 640.3 310.2 C643.9 306.7 647.4 302.3 651.0 299.6 C654.6 296.9 658.4 295.4 661.7 294.0 C665.0 292.6 668.2 292.3 670.7 291.2 C673.2 290.1 675.8 288.2 676.8 287.6" fill="none" stroke="#000" stroke-width="2.5" stroke-linecap="round"/>
<text x="520.6" y="290.6" font-size="6.9" font-style="italic" fill="#111" textLength="89.5" lengthAdjust="spacingAndGlyphs">adjusted p-value = 3x10<tspan font-size="7.8" dy="-2.4">-5</tspan></text>
<rect x="479.3" y="375.6" width="30.5" height="27.4" fill="#add8e6" />
<rect x="509.8" y="375.6" width="124.5" height="27.4" fill="#d3d3d3" />
<rect x="634.3" y="375.6" width="42.9" height="27.4" fill="#ffb6c1" />
<line x1="520.1" y1="347.6" x2="520.1" y2="403.0" stroke="#000" stroke-width="1.3" />
<line x1="564.8" y1="347.6" x2="564.8" y2="403.0" stroke="#000" stroke-width="1.3" />
<line x1="630.6" y1="347.6" x2="630.6" y2="403.0" stroke="#000" stroke-width="1.3" />
<line x1="640.3" y1="347.6" x2="640.3" y2="403.0" stroke="#000" stroke-width="1.3" />
<line x1="652.1" y1="347.6" x2="652.1" y2="403.0" stroke="#000" stroke-width="1.3" />
<line x1="665.7" y1="347.6" x2="665.7" y2="403.0" stroke="#000" stroke-width="1.3" />
<line x1="668.2" y1="347.6" x2="668.2" y2="403.0" stroke="#000" stroke-width="1.3" />
<line x1="670.8" y1="347.6" x2="670.8" y2="403.0" stroke="#000" stroke-width="1.3" />
<text x="476.3" y="372.8" font-size="7.0" font-weight="700" text-anchor="middle" fill="#111" textLength="21.5" lengthAdjust="spacingAndGlyphs" transform="rotate(-90 476.3 372.8)">Down</text>
<text x="679.0" y="372.8" font-size="7.0" font-weight="700" text-anchor="middle" fill="#111" textLength="10.5" lengthAdjust="spacingAndGlyphs" transform="rotate(90 679.0 372.8)">Up</text>
<line x1="479.5" y1="407.2" x2="677.6" y2="407.2" stroke="#000" stroke-width="1.1" />
<line x1="480.0" y1="407.2" x2="480.0" y2="412.8" stroke="#000" stroke-width="1.1" />
<text x="482.4" y="414.0" font-size="6.8" font-weight="700" text-anchor="end" fill="#111" textLength="13.3" lengthAdjust="spacingAndGlyphs" transform="rotate(-90 482.4 414.0)">-3.53</text>
<line x1="499.7" y1="407.2" x2="499.7" y2="412.8" stroke="#000" stroke-width="1.1" />
<text x="502.1" y="414.0" font-size="6.8" font-weight="700" text-anchor="end" fill="#111" textLength="13.3" lengthAdjust="spacingAndGlyphs" transform="rotate(-90 502.1 414.0)">-1.86</text>
<line x1="519.4" y1="407.2" x2="519.4" y2="412.8" stroke="#000" stroke-width="1.1" />
<text x="521.8" y="414.0" font-size="6.8" font-weight="700" text-anchor="end" fill="#111" textLength="13.3" lengthAdjust="spacingAndGlyphs" transform="rotate(-90 521.8 414.0)">-1.19</text>
<line x1="539.1" y1="407.2" x2="539.1" y2="412.8" stroke="#000" stroke-width="1.1" />
<text x="541.5" y="414.0" font-size="6.8" font-weight="700" text-anchor="end" fill="#111" textLength="13.3" lengthAdjust="spacingAndGlyphs" transform="rotate(-90 541.5 414.0)">-0.52</text>
<line x1="558.8" y1="407.2" x2="558.8" y2="412.8" stroke="#000" stroke-width="1.1" />
<text x="561.2" y="414.0" font-size="6.8" font-weight="700" text-anchor="end" fill="#111" textLength="13.3" lengthAdjust="spacingAndGlyphs" transform="rotate(-90 561.2 414.0)">-0.29</text>
<line x1="578.5" y1="407.2" x2="578.5" y2="412.8" stroke="#000" stroke-width="1.1" />
<text x="580.9" y="414.0" font-size="6.8" font-weight="700" text-anchor="end" fill="#111" textLength="11.2" lengthAdjust="spacingAndGlyphs" transform="rotate(-90 580.9 414.0)">0.08</text>
<line x1="598.3" y1="407.2" x2="598.3" y2="412.8" stroke="#000" stroke-width="1.1" />
<text x="600.7" y="414.0" font-size="6.8" font-weight="700" text-anchor="end" fill="#111" textLength="11.2" lengthAdjust="spacingAndGlyphs" transform="rotate(-90 600.7 414.0)">0.49</text>
<line x1="618.0" y1="407.2" x2="618.0" y2="412.8" stroke="#000" stroke-width="1.1" />
<text x="620.4" y="414.0" font-size="6.8" font-weight="700" text-anchor="end" fill="#111" textLength="11.2" lengthAdjust="spacingAndGlyphs" transform="rotate(-90 620.4 414.0)">0.73</text>
<line x1="637.7" y1="407.2" x2="637.7" y2="412.8" stroke="#000" stroke-width="1.1" />
<text x="640.1" y="414.0" font-size="6.8" font-weight="700" text-anchor="end" fill="#111" textLength="11.2" lengthAdjust="spacingAndGlyphs" transform="rotate(-90 640.1 414.0)">1.51</text>
<line x1="657.4" y1="407.2" x2="657.4" y2="412.8" stroke="#000" stroke-width="1.1" />
<text x="659.8" y="414.0" font-size="6.8" font-weight="700" text-anchor="end" fill="#111" textLength="11.2" lengthAdjust="spacingAndGlyphs" transform="rotate(-90 659.8 414.0)">3.28</text>
<line x1="677.1" y1="407.2" x2="677.1" y2="412.8" stroke="#000" stroke-width="1.1" />
<text x="679.5" y="414.0" font-size="6.8" font-weight="700" text-anchor="end" fill="#111" textLength="13.3" lengthAdjust="spacingAndGlyphs" transform="rotate(-90 679.5 414.0)">26.68</text>
<text x="575.7" y="437.9" font-size="7.4" font-weight="700" text-anchor="middle" fill="#111" textLength="111.5" lengthAdjust="spacingAndGlyphs">Protein expression t-statistics</text>
</g>
<g id="panel_F">
<text x="154.2" y="467.8" font-size="12.0" font-weight="700" text-anchor="middle" fill="#000">UP</text>
<line x1="28.6" y1="471.7" x2="288.3" y2="471.7" stroke="#000" stroke-width="1.5" />
<text x="329.7" y="468.1" font-size="12.0" font-weight="700" text-anchor="middle" fill="#000" textLength="37.2" lengthAdjust="spacingAndGlyphs">DOWN</text>
<line x1="307.6" y1="471.7" x2="356.8" y2="471.7" stroke="#000" stroke-width="1.5" />
<text x="12.3" y="571.0" font-size="9.8" font-weight="700" text-anchor="middle" fill="#000" textLength="172.0" lengthAdjust="spacingAndGlyphs" transform="rotate(-90 12.3 571.0)">Normalized protein expression (NPX)</text>
<text x="52.6" y="483.1" font-size="9.7" font-weight="700" text-anchor="middle" fill="#000" textLength="20.0" lengthAdjust="spacingAndGlyphs">IFNγ</text>
<rect x="34.3" y="546.5" width="17.1" height="5.6" fill="#cbcbcb" stroke="#333" stroke-width="1.3" />
<line x1="34.3" y1="549.3" x2="51.4" y2="549.3" stroke="#333" stroke-width="1.3" />
<rect x="56.1" y="515.4" width="17.5" height="33.2" fill="#f4a07c" stroke="#333" stroke-width="1.3" />
<line x1="56.1" y1="524.3" x2="73.6" y2="524.3" stroke="#333" stroke-width="1.3" />
<line x1="42.0" y1="544.1" x2="42.0" y2="546.5" stroke="#3a3a3a" stroke-width="1.1" />
<line x1="42.0" y1="552.1" x2="42.0" y2="554.4" stroke="#3a3a3a" stroke-width="1.1" />
<line x1="64.7" y1="508.9" x2="64.7" y2="515.4" stroke="#3a3a3a" stroke-width="1.1" />
<line x1="64.7" y1="548.6" x2="64.7" y2="555.6" stroke="#3a3a3a" stroke-width="1.1" />
<line x1="42.0" y1="554.0" x2="64.7" y2="552.8" stroke="#ff7f00" stroke-width="1.4" stroke-linecap="round"/>
<circle cx="42.0" cy="554.0" r="1.7" fill="#ff7f00" />
<circle cx="64.7" cy="552.8" r="1.7" fill="#ff7f00" />
<line x1="42.0" y1="554.4" x2="64.7" y2="555.6" stroke="#ffff33" stroke-width="1.4" stroke-linecap="round"/>
<circle cx="42.0" cy="554.4" r="1.7" fill="#ffff33" />
<circle cx="64.7" cy="555.6" r="1.7" fill="#ffff33" />
<line x1="42.0" y1="549.0" x2="64.7" y2="516.0" stroke="#a65628" stroke-width="1.4" stroke-linecap="round"/>
<circle cx="42.0" cy="549.0" r="1.7" fill="#a65628" />
<circle cx="64.7" cy="516.0" r="1.7" fill="#a65628" />
<line x1="42.0" y1="552.3" x2="64.7" y2="549.0" stroke="#f781bf" stroke-width="1.4" stroke-linecap="round"/>
<circle cx="42.0" cy="552.3" r="1.7" fill="#f781bf" />
<circle cx="64.7" cy="549.0" r="1.7" fill="#f781bf" />
<line x1="42.0" y1="551.0" x2="64.7" y2="524.7" stroke="#999999" stroke-width="1.4" stroke-linecap="round"/>
<circle cx="42.0" cy="551.0" r="1.7" fill="#999999" />
<circle cx="64.7" cy="524.7" r="1.7" fill="#999999" />
<line x1="42.0" y1="544.1" x2="64.7" y2="511.2" stroke="#e41a1c" stroke-width="1.4" stroke-linecap="round"/>
<circle cx="42.0" cy="544.1" r="1.7" fill="#e41a1c" />
<circle cx="64.7" cy="511.2" r="1.7" fill="#e41a1c" />
<line x1="42.0" y1="550.0" x2="64.7" y2="515.4" stroke="#377eb8" stroke-width="1.4" stroke-linecap="round"/>
<circle cx="42.0" cy="550.0" r="1.7" fill="#377eb8" />
<circle cx="64.7" cy="515.4" r="1.7" fill="#377eb8" />
<line x1="42.0" y1="549.3" x2="64.7" y2="508.9" stroke="#4daf4a" stroke-width="1.4" stroke-linecap="round"/>
<circle cx="42.0" cy="549.3" r="1.7" fill="#4daf4a" />
<circle cx="64.7" cy="508.9" r="1.7" fill="#4daf4a" />
<line x1="42.0" y1="549.6" x2="64.7" y2="511.9" stroke="#984ea3" stroke-width="1.4" stroke-linecap="round"/>
<circle cx="42.0" cy="549.6" r="1.7" fill="#984ea3" />
<circle cx="64.7" cy="511.9" r="1.7" fill="#984ea3" />
<line x1="29.2" y1="482.7" x2="29.2" y2="558.9" stroke="#000" stroke-width="1.2" />
<line x1="28.6" y1="558.2" x2="75.6" y2="558.2" stroke="#000" stroke-width="1.4" />
<line x1="26.8" y1="493.7" x2="29.2" y2="493.7" stroke="#000" stroke-width="0.8" />
<text x="26.5" y="496.1" font-size="6.9" font-weight="700" text-anchor="end" fill="#000" textLength="6.4" lengthAdjust="spacingAndGlyphs">15</text>
<line x1="26.8" y1="515.4" x2="29.2" y2="515.4" stroke="#000" stroke-width="0.8" />
<text x="26.5" y="517.8" font-size="6.9" font-weight="700" text-anchor="end" fill="#000" textLength="6.4" lengthAdjust="spacingAndGlyphs">10</text>
<line x1="26.8" y1="537.1" x2="29.2" y2="537.1" stroke="#000" stroke-width="0.8" />
<text x="26.5" y="539.5" font-size="6.9" font-weight="700" text-anchor="end" fill="#000" textLength="3.2" lengthAdjust="spacingAndGlyphs">5</text>
<line x1="42.0" y1="558.2" x2="42.0" y2="560.4" stroke="#000" stroke-width="1.0" />
<line x1="64.7" y1="558.2" x2="64.7" y2="560.4" stroke="#000" stroke-width="1.0" />
<text x="42.5" y="498.6" font-size="7.4" font-style="italic" fill="#2a2a2a" textLength="25.2" lengthAdjust="spacingAndGlyphs">p&lt;0.0001</text>
<line x1="41.8" y1="501.9" x2="65.3" y2="501.9" stroke="#404040" stroke-width="1.7" />
<text x="26.4" y="566.8" font-size="8.0" font-weight="700" fill="#000" textLength="23.8" lengthAdjust="spacingAndGlyphs">control</text>
<text x="52.7" y="566.8" font-size="8.0" font-weight="700" fill="#000" textLength="26.0" lengthAdjust="spacingAndGlyphs">IL-12Fc</text>
<text x="57.6" y="574.9" font-size="8.0" font-weight="700" fill="#000" textLength="16.8" lengthAdjust="spacingAndGlyphs">NHQ</text>
<text x="124.4" y="483.1" font-size="9.7" font-weight="700" text-anchor="middle" fill="#000" textLength="31.5" lengthAdjust="spacingAndGlyphs">CXCL9</text>
<rect x="104.4" y="536.4" width="17.1" height="11.2" fill="#cbcbcb" stroke="#333" stroke-width="1.3" />
<line x1="104.4" y1="541.6" x2="121.5" y2="541.6" stroke="#333" stroke-width="1.3" />
<rect x="126.6" y="517.3" width="16.6" height="31.7" fill="#f4a07c" stroke="#333" stroke-width="1.3" />
<line x1="126.6" y1="524.3" x2="143.2" y2="524.3" stroke="#333" stroke-width="1.3" />
<line x1="112.8" y1="529.0" x2="112.8" y2="536.4" stroke="#3a3a3a" stroke-width="1.1" />
<line x1="112.8" y1="547.6" x2="112.8" y2="554.6" stroke="#3a3a3a" stroke-width="1.1" />
<line x1="135.0" y1="510.7" x2="135.0" y2="517.3" stroke="#3a3a3a" stroke-width="1.1" />
<line x1="135.0" y1="549.0" x2="135.0" y2="555.8" stroke="#3a3a3a" stroke-width="1.1" />
<line x1="112.8" y1="552.8" x2="135.0" y2="552.8" stroke="#ff7f00" stroke-width="1.4" stroke-linecap="round"/>
<circle cx="112.8" cy="552.8" r="1.7" fill="#ff7f00" />
<circle cx="135.0" cy="552.8" r="1.7" fill="#ff7f00" />
<line x1="112.8" y1="548.1" x2="135.0" y2="549.7" stroke="#ffff33" stroke-width="1.4" stroke-linecap="round"/>
<circle cx="112.8" cy="548.1" r="1.7" fill="#ffff33" />
<circle cx="135.0" cy="549.7" r="1.7" fill="#ffff33" />
<line x1="112.8" y1="529.0" x2="135.0" y2="525.2" stroke="#a65628" stroke-width="1.4" stroke-linecap="round"/>
<circle cx="112.8" cy="529.0" r="1.7" fill="#a65628" />
<circle cx="135.0" cy="525.2" r="1.7" fill="#a65628" />
<line x1="112.8" y1="554.6" x2="135.0" y2="555.8" stroke="#f781bf" stroke-width="1.4" stroke-linecap="round"/>
<circle cx="112.8" cy="554.6" r="1.7" fill="#f781bf" />
<circle cx="135.0" cy="555.8" r="1.7" fill="#f781bf" />
<line x1="112.8" y1="540.0" x2="135.0" y2="525.2" stroke="#999999" stroke-width="1.4" stroke-linecap="round"/>
<circle cx="112.8" cy="540.0" r="1.7" fill="#999999" />
<circle cx="135.0" cy="525.2" r="1.7" fill="#999999" />
<line x1="112.8" y1="538.3" x2="135.0" y2="514.2" stroke="#e41a1c" stroke-width="1.4" stroke-linecap="round"/>
<circle cx="112.8" cy="538.3" r="1.7" fill="#e41a1c" />
<circle cx="135.0" cy="514.2" r="1.7" fill="#e41a1c" />
<line x1="112.8" y1="542.7" x2="135.0" y2="517.7" stroke="#377eb8" stroke-width="1.4" stroke-linecap="round"/>
<circle cx="112.8" cy="542.7" r="1.7" fill="#377eb8" />
<circle cx="135.0" cy="517.7" r="1.7" fill="#377eb8" />
<line x1="112.8" y1="536.9" x2="135.0" y2="512.6" stroke="#4daf4a" stroke-width="1.4" stroke-linecap="round"/>
<circle cx="112.8" cy="536.9" r="1.7" fill="#4daf4a" />
<circle cx="135.0" cy="512.6" r="1.7" fill="#4daf4a" />
<line x1="112.8" y1="535.3" x2="135.0" y2="510.7" stroke="#984ea3" stroke-width="1.4" stroke-linecap="round"/>
<circle cx="112.8" cy="535.3" r="1.7" fill="#984ea3" />
<circle cx="135.0" cy="510.7" r="1.7" fill="#984ea3" />
<line x1="99.3" y1="484.6" x2="99.3" y2="558.9" stroke="#000" stroke-width="1.2" />
<line x1="98.7" y1="558.2" x2="147.5" y2="558.2" stroke="#000" stroke-width="1.4" />
<line x1="96.9" y1="485.0" x2="99.3" y2="485.0" stroke="#000" stroke-width="0.8" />
<text x="96.6" y="487.4" font-size="6.9" font-weight="700" text-anchor="end" fill="#000" textLength="6.4" lengthAdjust="spacingAndGlyphs">16</text>
<line x1="96.9" y1="504.2" x2="99.3" y2="504.2" stroke="#000" stroke-width="0.8" />
<text x="96.6" y="506.6" font-size="6.9" font-weight="700" text-anchor="end" fill="#000" textLength="6.4" lengthAdjust="spacingAndGlyphs">12</text>
<line x1="96.9" y1="523.1" x2="99.3" y2="523.1" stroke="#000" stroke-width="0.8" />
<text x="96.6" y="525.5" font-size="6.9" font-weight="700" text-anchor="end" fill="#000" textLength="3.2" lengthAdjust="spacingAndGlyphs">8</text>
<line x1="96.9" y1="541.8" x2="99.3" y2="541.8" stroke="#000" stroke-width="0.8" />
<text x="96.6" y="544.2" font-size="6.9" font-weight="700" text-anchor="end" fill="#000" textLength="3.2" lengthAdjust="spacingAndGlyphs">4</text>
<line x1="112.8" y1="558.2" x2="112.8" y2="560.4" stroke="#000" stroke-width="1.0" />
<line x1="135.0" y1="558.2" x2="135.0" y2="560.4" stroke="#000" stroke-width="1.0" />
<text x="112.1" y="498.6" font-size="7.4" font-style="italic" fill="#2a2a2a" textLength="25.7" lengthAdjust="spacingAndGlyphs">p&lt;0.0001</text>
<line x1="112.6" y1="501.9" x2="135.6" y2="501.9" stroke="#404040" stroke-width="1.7" />
<text x="96.9" y="566.8" font-size="8.0" font-weight="700" fill="#000" textLength="24.1" lengthAdjust="spacingAndGlyphs">control</text>
<text x="125.3" y="566.8" font-size="8.0" font-weight="700" fill="#000" textLength="24.2" lengthAdjust="spacingAndGlyphs">IL-12Fc</text>
<text x="128.4" y="574.9" font-size="8.0" font-weight="700" fill="#000" textLength="16.6" lengthAdjust="spacingAndGlyphs">NHQ</text>
<text x="195.2" y="483.1" font-size="9.7" font-weight="700" text-anchor="middle" fill="#000" textLength="36.2" lengthAdjust="spacingAndGlyphs">CXCL11</text>
<rect x="175.0" y="532.2" width="17.5" height="9.6" fill="#cbcbcb" stroke="#333" stroke-width="1.3" />
<line x1="175.0" y1="538.8" x2="192.5" y2="538.8" stroke="#333" stroke-width="1.3" />
<rect x="197.4" y="517.3" width="17.3" height="34.8" fill="#f4a07c" stroke="#333" stroke-width="1.3" />
<line x1="197.4" y1="529.9" x2="214.7" y2="529.9" stroke="#333" stroke-width="1.3" />
<line x1="183.4" y1="524.3" x2="183.4" y2="532.2" stroke="#3a3a3a" stroke-width="1.1" />
<line x1="183.4" y1="541.8" x2="183.4" y2="555.1" stroke="#3a3a3a" stroke-width="1.1" />
<line x1="206.1" y1="509.6" x2="206.1" y2="517.3" stroke="#3a3a3a" stroke-width="1.1" />
<line x1="206.1" y1="552.1" x2="206.1" y2="554.6" stroke="#3a3a3a" stroke-width="1.1" />
<line x1="183.4" y1="556.3" x2="206.1" y2="554.4" stroke="#ff7f00" stroke-width="1.4" stroke-linecap="round"/>
<circle cx="183.4" cy="556.3" r="1.7" fill="#ff7f00" />
<circle cx="206.1" cy="554.4" r="1.7" fill="#ff7f00" />
<line x1="183.4" y1="539.5" x2="206.1" y2="551.6" stroke="#ffff33" stroke-width="1.4" stroke-linecap="round"/>
<circle cx="183.4" cy="539.5" r="1.7" fill="#ffff33" />
<circle cx="206.1" cy="551.6" r="1.7" fill="#ffff33" />
<line x1="183.4" y1="536.4" x2="206.1" y2="529.9" stroke="#a65628" stroke-width="1.4" stroke-linecap="round"/>
<circle cx="183.4" cy="536.4" r="1.7" fill="#a65628" />
<circle cx="206.1" cy="529.9" r="1.7" fill="#a65628" />
<line x1="183.4" y1="555.1" x2="206.1" y2="554.6" stroke="#f781bf" stroke-width="1.4" stroke-linecap="round"/>
<circle cx="183.4" cy="555.1" r="1.7" fill="#f781bf" />
<circle cx="206.1" cy="554.6" r="1.7" fill="#f781bf" />
<line x1="183.4" y1="540.0" x2="206.1" y2="538.8" stroke="#999999" stroke-width="1.4" stroke-linecap="round"/>
<circle cx="183.4" cy="540.0" r="1.7" fill="#999999" />
<circle cx="206.1" cy="538.8" r="1.7" fill="#999999" />
<line x1="183.4" y1="532.5" x2="206.1" y2="517.7" stroke="#e41a1c" stroke-width="1.4" stroke-linecap="round"/>
<circle cx="183.4" cy="532.5" r="1.7" fill="#e41a1c" />
<circle cx="206.1" cy="517.7" r="1.7" fill="#e41a1c" />
<line x1="183.4" y1="524.3" x2="206.1" y2="510.3" stroke="#377eb8" stroke-width="1.4" stroke-linecap="round"/>
<circle cx="183.4" cy="524.3" r="1.7" fill="#377eb8" />
<circle cx="206.1" cy="510.3" r="1.7" fill="#377eb8" />
<line x1="183.4" y1="525.9" x2="206.1" y2="509.6" stroke="#4daf4a" stroke-width="1.4" stroke-linecap="round"/>
<circle cx="183.4" cy="525.9" r="1.7" fill="#4daf4a" />
<circle cx="206.1" cy="509.6" r="1.7" fill="#4daf4a" />
<line x1="183.4" y1="541.8" x2="206.1" y2="517.7" stroke="#984ea3" stroke-width="1.4" stroke-linecap="round"/>
<circle cx="183.4" cy="541.8" r="1.7" fill="#984ea3" />
<circle cx="206.1" cy="517.7" r="1.7" fill="#984ea3" />
<line x1="170.6" y1="484.6" x2="170.6" y2="559.3" stroke="#000" stroke-width="1.2" />
<line x1="170.0" y1="558.6" x2="220.2" y2="558.6" stroke="#000" stroke-width="1.4" />
<line x1="168.2" y1="485.0" x2="170.6" y2="485.0" stroke="#000" stroke-width="0.8" />
<text x="167.9" y="487.4" font-size="6.9" font-weight="700" text-anchor="end" fill="#000" textLength="6.4" lengthAdjust="spacingAndGlyphs">15</text>
<line x1="168.2" y1="507.7" x2="170.6" y2="507.7" stroke="#000" stroke-width="0.8" />
<text x="167.9" y="510.1" font-size="6.9" font-weight="700" text-anchor="end" fill="#000" textLength="6.4" lengthAdjust="spacingAndGlyphs">10</text>
<line x1="168.2" y1="530.1" x2="170.6" y2="530.1" stroke="#000" stroke-width="0.8" />
<text x="167.9" y="532.5" font-size="6.9" font-weight="700" text-anchor="end" fill="#000" textLength="3.2" lengthAdjust="spacingAndGlyphs">5</text>
<line x1="168.2" y1="552.8" x2="170.6" y2="552.8" stroke="#000" stroke-width="0.8" />
<text x="167.9" y="555.2" font-size="6.9" font-weight="700" text-anchor="end" fill="#000" textLength="3.2" lengthAdjust="spacingAndGlyphs">0</text>
<line x1="183.4" y1="558.6" x2="183.4" y2="560.8" stroke="#000" stroke-width="1.0" />
<line x1="206.1" y1="558.6" x2="206.1" y2="560.8" stroke="#000" stroke-width="1.0" />
<text x="182.7" y="498.6" font-size="7.4" font-style="italic" fill="#2a2a2a" textLength="25.7" lengthAdjust="spacingAndGlyphs">p&lt;0.0001</text>
<line x1="183.2" y1="501.9" x2="206.7" y2="501.9" stroke="#404040" stroke-width="1.7" />
<text x="168.4" y="566.8" font-size="8.0" font-weight="700" fill="#000" textLength="24.2" lengthAdjust="spacingAndGlyphs">control</text>
<text x="196.0" y="566.8" font-size="8.0" font-weight="700" fill="#000" textLength="24.6" lengthAdjust="spacingAndGlyphs">IL-12Fc</text>
<text x="199.6" y="574.9" font-size="8.0" font-weight="700" fill="#000" textLength="16.8" lengthAdjust="spacingAndGlyphs">NHQ</text>
<text x="263.8" y="483.1" font-size="9.7" font-weight="700" text-anchor="middle" fill="#000" textLength="36.7" lengthAdjust="spacingAndGlyphs">CXCL10</text>
<rect x="243.4" y="520.5" width="17.1" height="18.7" fill="#cbcbcb" stroke="#333" stroke-width="1.3" />
<line x1="243.4" y1="528.7" x2="260.5" y2="528.7" stroke="#333" stroke-width="1.3" />
<rect x="266.1" y="511.4" width="17.5" height="39.0" fill="#f4a07c" stroke="#333" stroke-width="1.3" />
<line x1="266.1" y1="518.4" x2="283.6" y2="518.4" stroke="#333" stroke-width="1.3" />
<line x1="252.1" y1="512.6" x2="252.1" y2="520.5" stroke="#3a3a3a" stroke-width="1.1" />
<line x1="252.1" y1="539.2" x2="252.1" y2="555.6" stroke="#3a3a3a" stroke-width="1.1" />
<line x1="275.0" y1="509.6" x2="275.0" y2="511.4" stroke="#3a3a3a" stroke-width="1.1" />
<line x1="275.0" y1="550.4" x2="275.0" y2="555.6" stroke="#3a3a3a" stroke-width="1.1" />
<line x1="252.1" y1="552.8" x2="275.0" y2="550.9" stroke="#ff7f00" stroke-width="1.4" stroke-linecap="round"/>
<circle cx="252.1" cy="552.8" r="1.7" fill="#ff7f00" />
<circle cx="275.0" cy="550.9" r="1.7" fill="#ff7f00" />
<line x1="252.1" y1="521.2" x2="275.0" y2="554.6" stroke="#ffff33" stroke-width="1.4" stroke-linecap="round"/>
<circle cx="252.1" cy="521.2" r="1.7" fill="#ffff33" />
<circle cx="275.0" cy="554.6" r="1.7" fill="#ffff33" />
<line x1="252.1" y1="512.6" x2="275.0" y2="514.2" stroke="#a65628" stroke-width="1.4" stroke-linecap="round"/>
<circle cx="252.1" cy="512.6" r="1.7" fill="#a65628" />
<circle cx="275.0" cy="514.2" r="1.7" fill="#a65628" />
<line x1="252.1" y1="555.6" x2="275.0" y2="555.6" stroke="#f781bf" stroke-width="1.4" stroke-linecap="round"/>
<circle cx="252.1" cy="555.6" r="1.7" fill="#f781bf" />
<circle cx="275.0" cy="555.6" r="1.7" fill="#f781bf" />
<line x1="252.1" y1="537.6" x2="275.0" y2="518.4" stroke="#999999" stroke-width="1.4" stroke-linecap="round"/>
<circle cx="252.1" cy="537.6" r="1.7" fill="#999999" />
<circle cx="275.0" cy="518.4" r="1.7" fill="#999999" />
<line x1="252.1" y1="531.1" x2="275.0" y2="511.9" stroke="#e41a1c" stroke-width="1.4" stroke-linecap="round"/>
<circle cx="252.1" cy="531.1" r="1.7" fill="#e41a1c" />
<circle cx="275.0" cy="511.9" r="1.7" fill="#e41a1c" />
<line x1="252.1" y1="522.4" x2="275.0" y2="510.3" stroke="#377eb8" stroke-width="1.4" stroke-linecap="round"/>
<circle cx="252.1" cy="522.4" r="1.7" fill="#377eb8" />
<circle cx="275.0" cy="510.3" r="1.7" fill="#377eb8" />
<line x1="252.1" y1="520.1" x2="275.0" y2="509.6" stroke="#4daf4a" stroke-width="1.4" stroke-linecap="round"/>
<circle cx="252.1" cy="520.1" r="1.7" fill="#4daf4a" />
<circle cx="275.0" cy="509.6" r="1.7" fill="#4daf4a" />
<line x1="252.1" y1="528.3" x2="275.0" y2="511.2" stroke="#984ea3" stroke-width="1.4" stroke-linecap="round"/>
<circle cx="252.1" cy="528.3" r="1.7" fill="#984ea3" />
<circle cx="275.0" cy="511.2" r="1.7" fill="#984ea3" />
<line x1="238.8" y1="482.7" x2="238.8" y2="559.3" stroke="#000" stroke-width="1.2" />
<line x1="238.2" y1="558.6" x2="289.2" y2="558.6" stroke="#000" stroke-width="1.4" />
<line x1="236.4" y1="493.9" x2="238.8" y2="493.9" stroke="#000" stroke-width="0.8" />
<text x="236.1" y="496.3" font-size="6.9" font-weight="700" text-anchor="end" fill="#000" textLength="6.4" lengthAdjust="spacingAndGlyphs">15</text>
<line x1="236.4" y1="517.0" x2="238.8" y2="517.0" stroke="#000" stroke-width="0.8" />
<text x="236.1" y="519.4" font-size="6.9" font-weight="700" text-anchor="end" fill="#000" textLength="6.4" lengthAdjust="spacingAndGlyphs">10</text>
<line x1="236.4" y1="539.9" x2="238.8" y2="539.9" stroke="#000" stroke-width="0.8" />
<text x="236.1" y="542.3" font-size="6.9" font-weight="700" text-anchor="end" fill="#000" textLength="3.2" lengthAdjust="spacingAndGlyphs">5</text>
<line x1="252.1" y1="558.6" x2="252.1" y2="560.8" stroke="#000" stroke-width="1.0" />
<line x1="275.0" y1="558.6" x2="275.0" y2="560.8" stroke="#000" stroke-width="1.0" />
<text x="250.9" y="498.6" font-size="7.4" font-style="italic" fill="#2a2a2a" textLength="25.9" lengthAdjust="spacingAndGlyphs">p=0.0001</text>
<line x1="251.9" y1="501.9" x2="275.6" y2="501.9" stroke="#404040" stroke-width="1.7" />
<text x="236.6" y="566.8" font-size="8.0" font-weight="700" fill="#000" textLength="24.2" lengthAdjust="spacingAndGlyphs">control</text>
<text x="265.0" y="566.8" font-size="8.0" font-weight="700" fill="#000" textLength="24.6" lengthAdjust="spacingAndGlyphs">IL-12Fc</text>
<text x="268.6" y="574.9" font-size="8.0" font-weight="700" fill="#000" textLength="16.8" lengthAdjust="spacingAndGlyphs">NHQ</text>
<text x="332.2" y="483.1" font-size="9.7" font-weight="700" text-anchor="middle" fill="#000" textLength="25.2" lengthAdjust="spacingAndGlyphs">ARG1</text>
<rect x="312.7" y="538.3" width="17.0" height="13.3" fill="#cbcbcb" stroke="#333" stroke-width="1.3" />
<line x1="312.7" y1="550.0" x2="329.7" y2="550.0" stroke="#333" stroke-width="1.3" />
<rect x="335.1" y="539.5" width="16.8" height="12.1" fill="#f4a07c" stroke="#333" stroke-width="1.3" />
<line x1="335.1" y1="549.3" x2="351.9" y2="549.3" stroke="#333" stroke-width="1.3" />
<line x1="321.1" y1="536.4" x2="321.1" y2="538.3" stroke="#3a3a3a" stroke-width="1.1" />
<line x1="321.1" y1="551.6" x2="321.1" y2="553.9" stroke="#3a3a3a" stroke-width="1.1" />
<line x1="343.7" y1="538.3" x2="343.7" y2="539.5" stroke="#3a3a3a" stroke-width="1.1" />
<line x1="343.7" y1="551.6" x2="343.7" y2="555.8" stroke="#3a3a3a" stroke-width="1.1" />
<line x1="321.1" y1="542.7" x2="343.7" y2="539.5" stroke="#ff7f00" stroke-width="1.4" stroke-linecap="round"/>
<circle cx="321.1" cy="542.7" r="1.7" fill="#ff7f00" />
<circle cx="343.7" cy="539.5" r="1.7" fill="#ff7f00" />
<line x1="321.1" y1="552.8" x2="343.7" y2="555.8" stroke="#ffff33" stroke-width="1.4" stroke-linecap="round"/>
<circle cx="321.1" cy="552.8" r="1.7" fill="#ffff33" />
<circle cx="343.7" cy="555.8" r="1.7" fill="#ffff33" />
<line x1="321.1" y1="550.0" x2="343.7" y2="549.3" stroke="#a65628" stroke-width="1.4" stroke-linecap="round"/>
<circle cx="321.1" cy="550.0" r="1.7" fill="#a65628" />
<circle cx="343.7" cy="549.3" r="1.7" fill="#a65628" />
<line x1="321.1" y1="553.9" x2="343.7" y2="553.2" stroke="#f781bf" stroke-width="1.4" stroke-linecap="round"/>
<circle cx="321.1" cy="553.9" r="1.7" fill="#f781bf" />
<circle cx="343.7" cy="553.2" r="1.7" fill="#f781bf" />
<line x1="321.1" y1="550.9" x2="343.7" y2="549.7" stroke="#999999" stroke-width="1.4" stroke-linecap="round"/>
<circle cx="321.1" cy="550.9" r="1.7" fill="#999999" />
<circle cx="343.7" cy="549.7" r="1.7" fill="#999999" />
<line x1="321.1" y1="536.4" x2="343.7" y2="538.3" stroke="#e41a1c" stroke-width="1.4" stroke-linecap="round"/>
<circle cx="321.1" cy="536.4" r="1.7" fill="#e41a1c" />
<circle cx="343.7" cy="538.3" r="1.7" fill="#e41a1c" />
<line x1="321.1" y1="508.9" x2="343.7" y2="511.2" stroke="#377eb8" stroke-width="1.4" stroke-linecap="round"/>
<circle cx="321.1" cy="508.9" r="1.7" fill="#377eb8" />
<circle cx="343.7" cy="511.2" r="1.7" fill="#377eb8" />
<line x1="321.1" y1="550.0" x2="343.7" y2="550.9" stroke="#4daf4a" stroke-width="1.4" stroke-linecap="round"/>
<circle cx="321.1" cy="550.0" r="1.7" fill="#4daf4a" />
<circle cx="343.7" cy="550.9" r="1.7" fill="#4daf4a" />
<line x1="321.1" y1="538.8" x2="343.7" y2="548.1" stroke="#984ea3" stroke-width="1.4" stroke-linecap="round"/>
<circle cx="321.1" cy="538.8" r="1.7" fill="#984ea3" />
<circle cx="343.7" cy="548.1" r="1.7" fill="#984ea3" />
<line x1="308.2" y1="483.9" x2="308.2" y2="559.3" stroke="#000" stroke-width="0.6" />
<line x1="307.6" y1="558.6" x2="356.8" y2="558.6" stroke="#000" stroke-width="1.4" />
<line x1="305.8" y1="484.6" x2="308.2" y2="484.6" stroke="#000" stroke-width="0.8" />
<text x="305.5" y="487.0" font-size="6.9" font-weight="700" text-anchor="end" fill="#000" textLength="3.2" lengthAdjust="spacingAndGlyphs">6</text>
<line x1="305.8" y1="505.4" x2="308.2" y2="505.4" stroke="#000" stroke-width="0.8" />
<text x="305.5" y="507.8" font-size="6.9" font-weight="700" text-anchor="end" fill="#000" textLength="3.2" lengthAdjust="spacingAndGlyphs">4</text>
<line x1="305.8" y1="526.4" x2="308.2" y2="526.4" stroke="#000" stroke-width="0.8" />
<text x="305.5" y="528.8" font-size="6.9" font-weight="700" text-anchor="end" fill="#000" textLength="3.2" lengthAdjust="spacingAndGlyphs">2</text>
<line x1="305.8" y1="546.9" x2="308.2" y2="546.9" stroke="#000" stroke-width="0.8" />
<text x="305.5" y="549.3" font-size="6.9" font-weight="700" text-anchor="end" fill="#000" textLength="3.2" lengthAdjust="spacingAndGlyphs">0</text>
<line x1="321.1" y1="558.6" x2="321.1" y2="560.8" stroke="#000" stroke-width="1.0" />
<line x1="343.7" y1="558.6" x2="343.7" y2="560.8" stroke="#000" stroke-width="1.0" />
<text x="319.2" y="498.6" font-size="7.4" font-style="italic" fill="#2a2a2a" textLength="26.9" lengthAdjust="spacingAndGlyphs">p=0.0241</text>
<line x1="320.9" y1="501.9" x2="344.3" y2="501.9" stroke="#404040" stroke-width="1.7" />
<text x="305.2" y="566.8" font-size="8.0" font-weight="700" fill="#000" textLength="23.3" lengthAdjust="spacingAndGlyphs">control</text>
<text x="333.5" y="566.8" font-size="8.0" font-weight="700" fill="#000" textLength="24.7" lengthAdjust="spacingAndGlyphs">IL-12Fc</text>
<text x="337.9" y="574.9" font-size="8.0" font-weight="700" fill="#000" textLength="16.3" lengthAdjust="spacingAndGlyphs">NHQ</text>
<text x="53.6" y="586.9" font-size="9.7" font-weight="700" text-anchor="middle" fill="#000" textLength="29.0" lengthAdjust="spacingAndGlyphs">GZMB</text>
<rect x="32.0" y="632.4" width="16.6" height="17.0" fill="#cbcbcb" stroke="#333" stroke-width="1.3" />
<line x1="32.0" y1="643.6" x2="48.6" y2="643.6" stroke="#333" stroke-width="1.3" />
<rect x="54.2" y="622.3" width="17.0" height="26.2" fill="#f4a07c" stroke="#333" stroke-width="1.3" />
<line x1="54.2" y1="634.2" x2="71.2" y2="634.2" stroke="#333" stroke-width="1.3" />
<line x1="40.2" y1="620.9" x2="40.2" y2="632.4" stroke="#3a3a3a" stroke-width="1.1" />
<line x1="40.2" y1="649.4" x2="40.2" y2="652.9" stroke="#3a3a3a" stroke-width="1.1" />
<line x1="62.6" y1="612.5" x2="62.6" y2="622.3" stroke="#3a3a3a" stroke-width="1.1" />
<line x1="62.6" y1="648.5" x2="62.6" y2="659.9" stroke="#3a3a3a" stroke-width="1.1" />
<line x1="40.2" y1="650.6" x2="62.6" y2="648.3" stroke="#ff7f00" stroke-width="1.4" stroke-linecap="round"/>
<circle cx="40.2" cy="650.6" r="1.7" fill="#ff7f00" />
<circle cx="62.6" cy="648.3" r="1.7" fill="#ff7f00" />
<line x1="40.2" y1="644.3" x2="62.6" y2="659.9" stroke="#ffff33" stroke-width="1.4" stroke-linecap="round"/>
<circle cx="40.2" cy="644.3" r="1.7" fill="#ffff33" />
<circle cx="62.6" cy="659.9" r="1.7" fill="#ffff33" />
<line x1="40.2" y1="649.4" x2="62.6" y2="642.9" stroke="#a65628" stroke-width="1.4" stroke-linecap="round"/>
<circle cx="40.2" cy="649.4" r="1.7" fill="#a65628" />
<circle cx="62.6" cy="642.9" r="1.7" fill="#a65628" />
<line x1="40.2" y1="652.9" x2="62.6" y2="654.6" stroke="#f781bf" stroke-width="1.4" stroke-linecap="round"/>
<circle cx="40.2" cy="652.9" r="1.7" fill="#f781bf" />
<circle cx="62.6" cy="654.6" r="1.7" fill="#f781bf" />
<line x1="40.2" y1="644.3" x2="62.6" y2="634.2" stroke="#999999" stroke-width="1.4" stroke-linecap="round"/>
<circle cx="40.2" cy="644.3" r="1.7" fill="#999999" />
<circle cx="62.6" cy="634.2" r="1.7" fill="#999999" />
<line x1="40.2" y1="634.2" x2="62.6" y2="621.9" stroke="#e41a1c" stroke-width="1.4" stroke-linecap="round"/>
<circle cx="40.2" cy="634.2" r="1.7" fill="#e41a1c" />
<circle cx="62.6" cy="621.9" r="1.7" fill="#e41a1c" />
<line x1="40.2" y1="629.6" x2="62.6" y2="624.2" stroke="#377eb8" stroke-width="1.4" stroke-linecap="round"/>
<circle cx="40.2" cy="629.6" r="1.7" fill="#377eb8" />
<circle cx="62.6" cy="624.2" r="1.7" fill="#377eb8" />
<line x1="40.2" y1="620.9" x2="62.6" y2="612.5" stroke="#4daf4a" stroke-width="1.4" stroke-linecap="round"/>
<circle cx="40.2" cy="620.9" r="1.7" fill="#4daf4a" />
<circle cx="62.6" cy="612.5" r="1.7" fill="#4daf4a" />
<line x1="40.2" y1="631.9" x2="62.6" y2="619.5" stroke="#984ea3" stroke-width="1.4" stroke-linecap="round"/>
<circle cx="40.2" cy="631.9" r="1.7" fill="#984ea3" />
<circle cx="62.6" cy="619.5" r="1.7" fill="#984ea3" />
<line x1="27.6" y1="588.2" x2="27.6" y2="664.1" stroke="#000" stroke-width="1.2" />
<line x1="27.0" y1="663.4" x2="76.0" y2="663.4" stroke="#000" stroke-width="1.4" />
<line x1="25.2" y1="591.7" x2="27.6" y2="591.7" stroke="#000" stroke-width="0.8" />
<text x="24.9" y="594.1" font-size="6.9" font-weight="700" text-anchor="end" fill="#000" textLength="3.2" lengthAdjust="spacingAndGlyphs">5</text>
<line x1="25.2" y1="604.6" x2="27.6" y2="604.6" stroke="#000" stroke-width="0.8" />
<text x="24.9" y="607.0" font-size="6.9" font-weight="700" text-anchor="end" fill="#000" textLength="3.2" lengthAdjust="spacingAndGlyphs">4</text>
<line x1="25.2" y1="617.9" x2="27.6" y2="617.9" stroke="#000" stroke-width="0.8" />
<text x="24.9" y="620.3" font-size="6.9" font-weight="700" text-anchor="end" fill="#000" textLength="3.2" lengthAdjust="spacingAndGlyphs">3</text>
<line x1="25.2" y1="630.7" x2="27.6" y2="630.7" stroke="#000" stroke-width="0.8" />
<text x="24.9" y="633.1" font-size="6.9" font-weight="700" text-anchor="end" fill="#000" textLength="3.2" lengthAdjust="spacingAndGlyphs">2</text>
<line x1="25.2" y1="643.6" x2="27.6" y2="643.6" stroke="#000" stroke-width="0.8" />
<text x="24.9" y="646.0" font-size="6.9" font-weight="700" text-anchor="end" fill="#000" textLength="3.2" lengthAdjust="spacingAndGlyphs">1</text>
<line x1="25.2" y1="656.4" x2="27.6" y2="656.4" stroke="#000" stroke-width="0.8" />
<text x="24.9" y="658.8" font-size="6.9" font-weight="700" text-anchor="end" fill="#000" textLength="3.2" lengthAdjust="spacingAndGlyphs">0</text>
<line x1="40.2" y1="663.4" x2="40.2" y2="665.6" stroke="#000" stroke-width="1.0" />
<line x1="62.6" y1="663.4" x2="62.6" y2="665.6" stroke="#000" stroke-width="1.0" />
<text x="39.7" y="599.9" font-size="7.4" font-style="italic" fill="#2a2a2a" textLength="25.2" lengthAdjust="spacingAndGlyphs">p=0.0003</text>
<line x1="40.0" y1="602.7" x2="63.2" y2="602.7" stroke="#404040" stroke-width="1.7" />
<text x="25.2" y="672.3" font-size="8.0" font-weight="700" fill="#000" textLength="24.3" lengthAdjust="spacingAndGlyphs">control</text>
<text x="52.7" y="672.3" font-size="8.0" font-weight="700" fill="#000" textLength="24.4" lengthAdjust="spacingAndGlyphs">IL-12Fc</text>
<text x="57.2" y="680.4" font-size="8.0" font-weight="700" fill="#000" textLength="16.4" lengthAdjust="spacingAndGlyphs">NHQ</text>
<text x="127.8" y="586.9" font-size="9.7" font-weight="700" text-anchor="middle" fill="#000" textLength="28.4" lengthAdjust="spacingAndGlyphs">GZMH</text>
<rect x="104.4" y="638.2" width="17.1" height="12.4" fill="#cbcbcb" stroke="#333" stroke-width="1.3" />
<line x1="104.4" y1="644.3" x2="121.5" y2="644.3" stroke="#333" stroke-width="1.3" />
<rect x="126.8" y="627.2" width="17.3" height="18.7" fill="#f4a07c" stroke="#333" stroke-width="1.3" />
<line x1="126.8" y1="642.4" x2="144.1" y2="642.4" stroke="#333" stroke-width="1.3" />
<line x1="113.3" y1="626.5" x2="113.3" y2="638.2" stroke="#3a3a3a" stroke-width="1.1" />
<line x1="113.3" y1="650.6" x2="113.3" y2="660.6" stroke="#3a3a3a" stroke-width="1.1" />
<line x1="135.5" y1="613.9" x2="135.5" y2="627.2" stroke="#3a3a3a" stroke-width="1.1" />
<line x1="135.5" y1="645.9" x2="135.5" y2="658.8" stroke="#3a3a3a" stroke-width="1.1" />
<line x1="113.3" y1="656.0" x2="135.5" y2="645.9" stroke="#ff7f00" stroke-width="1.4" stroke-linecap="round"/>
<circle cx="113.3" cy="656.0" r="1.7" fill="#ff7f00" />
<circle cx="135.5" cy="645.9" r="1.7" fill="#ff7f00" />
<line x1="113.3" y1="638.4" x2="135.5" y2="658.8" stroke="#ffff33" stroke-width="1.4" stroke-linecap="round"/>
<circle cx="113.3" cy="638.4" r="1.7" fill="#ffff33" />
<circle cx="135.5" cy="658.8" r="1.7" fill="#ffff33" />
<line x1="113.3" y1="650.6" x2="135.5" y2="649.9" stroke="#a65628" stroke-width="1.4" stroke-linecap="round"/>
<circle cx="113.3" cy="650.6" r="1.7" fill="#a65628" />
<circle cx="135.5" cy="649.9" r="1.7" fill="#a65628" />
<line x1="113.3" y1="644.3" x2="135.5" y2="642.4" stroke="#f781bf" stroke-width="1.4" stroke-linecap="round"/>
<circle cx="113.3" cy="644.3" r="1.7" fill="#f781bf" />
<circle cx="135.5" cy="642.4" r="1.7" fill="#f781bf" />
<line x1="113.3" y1="660.6" x2="135.5" y2="644.3" stroke="#999999" stroke-width="1.4" stroke-linecap="round"/>
<circle cx="113.3" cy="660.6" r="1.7" fill="#999999" />
<circle cx="135.5" cy="644.3" r="1.7" fill="#999999" />
<line x1="113.3" y1="643.1" x2="135.5" y2="624.4" stroke="#e41a1c" stroke-width="1.4" stroke-linecap="round"/>
<circle cx="113.3" cy="643.1" r="1.7" fill="#e41a1c" />
<circle cx="135.5" cy="624.4" r="1.7" fill="#e41a1c" />
<line x1="113.3" y1="645.9" x2="135.5" y2="628.9" stroke="#377eb8" stroke-width="1.4" stroke-linecap="round"/>
<circle cx="113.3" cy="645.9" r="1.7" fill="#377eb8" />
<circle cx="135.5" cy="628.9" r="1.7" fill="#377eb8" />
<line x1="113.3" y1="626.5" x2="135.5" y2="627.7" stroke="#4daf4a" stroke-width="1.4" stroke-linecap="round"/>
<circle cx="113.3" cy="626.5" r="1.7" fill="#4daf4a" />
<circle cx="135.5" cy="627.7" r="1.7" fill="#4daf4a" />
<line x1="113.3" y1="630.3" x2="135.5" y2="613.9" stroke="#984ea3" stroke-width="1.4" stroke-linecap="round"/>
<circle cx="113.3" cy="630.3" r="1.7" fill="#984ea3" />
<circle cx="135.5" cy="613.9" r="1.7" fill="#984ea3" />
<line x1="100.0" y1="588.2" x2="100.0" y2="664.1" stroke="#000" stroke-width="1.2" />
<line x1="99.4" y1="663.4" x2="149.6" y2="663.4" stroke="#000" stroke-width="1.4" />
<line x1="97.6" y1="589.4" x2="100.0" y2="589.4" stroke="#000" stroke-width="0.8" />
<text x="97.3" y="591.8" font-size="6.9" font-weight="700" text-anchor="end" fill="#000" textLength="7.9" lengthAdjust="spacingAndGlyphs">2.5</text>
<line x1="97.6" y1="604.3" x2="100.0" y2="604.3" stroke="#000" stroke-width="0.8" />
<text x="97.3" y="606.7" font-size="6.9" font-weight="700" text-anchor="end" fill="#000" textLength="7.9" lengthAdjust="spacingAndGlyphs">2.0</text>
<line x1="97.6" y1="618.4" x2="100.0" y2="618.4" stroke="#000" stroke-width="0.8" />
<text x="97.3" y="620.8" font-size="6.9" font-weight="700" text-anchor="end" fill="#000" textLength="7.9" lengthAdjust="spacingAndGlyphs">1.5</text>
<line x1="97.6" y1="633.1" x2="100.0" y2="633.1" stroke="#000" stroke-width="0.8" />
<text x="97.3" y="635.5" font-size="6.9" font-weight="700" text-anchor="end" fill="#000" textLength="7.9" lengthAdjust="spacingAndGlyphs">1.0</text>
<line x1="97.6" y1="647.1" x2="100.0" y2="647.1" stroke="#000" stroke-width="0.8" />
<text x="97.3" y="649.5" font-size="6.9" font-weight="700" text-anchor="end" fill="#000" textLength="7.9" lengthAdjust="spacingAndGlyphs">0.5</text>
<line x1="97.6" y1="661.8" x2="100.0" y2="661.8" stroke="#000" stroke-width="0.8" />
<text x="97.3" y="664.2" font-size="6.9" font-weight="700" text-anchor="end" fill="#000" textLength="7.9" lengthAdjust="spacingAndGlyphs">0.0</text>
<line x1="113.3" y1="663.4" x2="113.3" y2="665.6" stroke="#000" stroke-width="1.0" />
<line x1="135.5" y1="663.4" x2="135.5" y2="665.6" stroke="#000" stroke-width="1.0" />
<text x="111.7" y="599.9" font-size="7.4" font-style="italic" fill="#2a2a2a" textLength="25.7" lengthAdjust="spacingAndGlyphs">p=0.0027</text>
<line x1="113.1" y1="602.7" x2="136.1" y2="602.7" stroke="#404040" stroke-width="1.7" />
<text x="98.2" y="672.3" font-size="8.0" font-weight="700" fill="#000" textLength="24.2" lengthAdjust="spacingAndGlyphs">control</text>
<text x="125.6" y="672.3" font-size="8.0" font-weight="700" fill="#000" textLength="24.6" lengthAdjust="spacingAndGlyphs">IL-12Fc</text>
<text x="129.6" y="680.4" font-size="8.0" font-weight="700" fill="#000" textLength="16.6" lengthAdjust="spacingAndGlyphs">NHQ</text>
<text x="194.6" y="586.9" font-size="9.7" font-weight="700" text-anchor="middle" fill="#000" textLength="31.5" lengthAdjust="spacingAndGlyphs">FASLG</text>
<rect x="174.5" y="618.4" width="17.5" height="6.5" fill="#cbcbcb" stroke="#333" stroke-width="1.3" />
<line x1="174.5" y1="621.9" x2="192.0" y2="621.9" stroke="#333" stroke-width="1.3" />
<rect x="197.4" y="615.1" width="17.3" height="7.9" fill="#f4a07c" stroke="#333" stroke-width="1.3" />
<line x1="197.4" y1="620.2" x2="214.7" y2="620.2" stroke="#333" stroke-width="1.3" />
<line x1="183.4" y1="615.5" x2="183.4" y2="618.4" stroke="#3a3a3a" stroke-width="1.1" />
<line x1="183.4" y1="624.9" x2="183.4" y2="630.0" stroke="#3a3a3a" stroke-width="1.1" />
<line x1="206.1" y1="612.5" x2="206.1" y2="615.1" stroke="#3a3a3a" stroke-width="1.1" />
<line x1="206.1" y1="623.0" x2="206.1" y2="629.1" stroke="#3a3a3a" stroke-width="1.1" />
<line x1="183.4" y1="660.4" x2="206.1" y2="657.1" stroke="#ff7f00" stroke-width="1.4" stroke-linecap="round"/>
<circle cx="183.4" cy="660.4" r="1.7" fill="#ff7f00" />
<circle cx="206.1" cy="657.1" r="1.7" fill="#ff7f00" />
<line x1="183.4" y1="622.6" x2="206.1" y2="623.0" stroke="#ffff33" stroke-width="1.4" stroke-linecap="round"/>
<circle cx="183.4" cy="622.6" r="1.7" fill="#ffff33" />
<circle cx="206.1" cy="623.0" r="1.7" fill="#ffff33" />
<line x1="183.4" y1="630.0" x2="206.1" y2="629.1" stroke="#a65628" stroke-width="1.4" stroke-linecap="round"/>
<circle cx="183.4" cy="630.0" r="1.7" fill="#a65628" />
<circle cx="206.1" cy="629.1" r="1.7" fill="#a65628" />
<line x1="183.4" y1="620.2" x2="206.1" y2="619.8" stroke="#f781bf" stroke-width="1.4" stroke-linecap="round"/>
<circle cx="183.4" cy="620.2" r="1.7" fill="#f781bf" />
<circle cx="206.1" cy="619.8" r="1.7" fill="#f781bf" />
<line x1="183.4" y1="620.9" x2="206.1" y2="620.2" stroke="#999999" stroke-width="1.4" stroke-linecap="round"/>
<circle cx="183.4" cy="620.9" r="1.7" fill="#999999" />
<circle cx="206.1" cy="620.2" r="1.7" fill="#999999" />
<line x1="183.4" y1="617.9" x2="206.1" y2="615.1" stroke="#e41a1c" stroke-width="1.4" stroke-linecap="round"/>
<circle cx="183.4" cy="617.9" r="1.7" fill="#e41a1c" />
<circle cx="206.1" cy="615.1" r="1.7" fill="#e41a1c" />
<line x1="183.4" y1="619.8" x2="206.1" y2="617.9" stroke="#377eb8" stroke-width="1.4" stroke-linecap="round"/>
<circle cx="183.4" cy="619.8" r="1.7" fill="#377eb8" />
<circle cx="206.1" cy="617.9" r="1.7" fill="#377eb8" />
<line x1="183.4" y1="615.5" x2="206.1" y2="612.5" stroke="#4daf4a" stroke-width="1.4" stroke-linecap="round"/>
<circle cx="183.4" cy="615.5" r="1.7" fill="#4daf4a" />
<circle cx="206.1" cy="612.5" r="1.7" fill="#4daf4a" />
<line x1="183.4" y1="619.1" x2="206.1" y2="616.3" stroke="#984ea3" stroke-width="1.4" stroke-linecap="round"/>
<circle cx="183.4" cy="619.1" r="1.7" fill="#984ea3" />
<circle cx="206.1" cy="616.3" r="1.7" fill="#984ea3" />
<line x1="169.2" y1="587.5" x2="169.2" y2="664.1" stroke="#000" stroke-width="1.2" />
<line x1="168.6" y1="663.4" x2="220.2" y2="663.4" stroke="#000" stroke-width="1.4" />
<line x1="166.8" y1="598.5" x2="169.2" y2="598.5" stroke="#000" stroke-width="0.8" />
<text x="166.5" y="600.9" font-size="6.9" font-weight="700" text-anchor="end" fill="#000" textLength="3.2" lengthAdjust="spacingAndGlyphs">4</text>
<line x1="166.8" y1="612.7" x2="169.2" y2="612.7" stroke="#000" stroke-width="0.8" />
<text x="166.5" y="615.1" font-size="6.9" font-weight="700" text-anchor="end" fill="#000" textLength="3.2" lengthAdjust="spacingAndGlyphs">3</text>
<line x1="166.8" y1="627.2" x2="169.2" y2="627.2" stroke="#000" stroke-width="0.8" />
<text x="166.5" y="629.6" font-size="6.9" font-weight="700" text-anchor="end" fill="#000" textLength="3.2" lengthAdjust="spacingAndGlyphs">2</text>
<line x1="166.8" y1="641.7" x2="169.2" y2="641.7" stroke="#000" stroke-width="0.8" />
<text x="166.5" y="644.1" font-size="6.9" font-weight="700" text-anchor="end" fill="#000" textLength="3.2" lengthAdjust="spacingAndGlyphs">1</text>
<line x1="166.8" y1="656.0" x2="169.2" y2="656.0" stroke="#000" stroke-width="0.8" />
<text x="166.5" y="658.4" font-size="6.9" font-weight="700" text-anchor="end" fill="#000" textLength="3.2" lengthAdjust="spacingAndGlyphs">0</text>
<line x1="183.4" y1="663.4" x2="183.4" y2="665.6" stroke="#000" stroke-width="1.0" />
<line x1="206.1" y1="663.4" x2="206.1" y2="665.6" stroke="#000" stroke-width="1.0" />
<text x="180.4" y="599.9" font-size="7.4" font-style="italic" fill="#2a2a2a" textLength="26.4" lengthAdjust="spacingAndGlyphs">p=0.0089</text>
<line x1="183.2" y1="602.7" x2="206.7" y2="602.7" stroke="#404040" stroke-width="1.7" />
<text x="169.4" y="672.3" font-size="8.0" font-weight="700" fill="#000" textLength="24.0" lengthAdjust="spacingAndGlyphs">control</text>
<text x="196.4" y="672.3" font-size="8.0" font-weight="700" fill="#000" textLength="24.4" lengthAdjust="spacingAndGlyphs">IL-12Fc</text>
<text x="200.2" y="680.4" font-size="8.0" font-weight="700" fill="#000" textLength="16.6" lengthAdjust="spacingAndGlyphs">NHQ</text>
<text x="263.8" y="586.9" font-size="9.7" font-weight="700" text-anchor="middle" fill="#000" textLength="43.0" lengthAdjust="spacingAndGlyphs">TNFRSF4</text>
<rect x="243.4" y="637.3" width="17.6" height="5.1" fill="#cbcbcb" stroke="#333" stroke-width="1.3" />
<line x1="243.4" y1="640.0" x2="261.0" y2="640.0" stroke="#333" stroke-width="1.3" />
<rect x="266.1" y="636.1" width="17.5" height="8.6" fill="#f4a07c" stroke="#333" stroke-width="1.3" />
<line x1="266.1" y1="642.9" x2="283.6" y2="642.9" stroke="#333" stroke-width="1.3" />
<line x1="252.1" y1="634.2" x2="252.1" y2="637.3" stroke="#3a3a3a" stroke-width="1.1" />
<line x1="252.1" y1="642.4" x2="252.1" y2="645.2" stroke="#3a3a3a" stroke-width="1.1" />
<line x1="275.0" y1="636.1" x2="275.0" y2="636.1" stroke="#3a3a3a" stroke-width="1.1" />
<line x1="275.0" y1="644.7" x2="275.0" y2="644.7" stroke="#3a3a3a" stroke-width="1.1" />
<line x1="252.1" y1="660.4" x2="275.0" y2="658.1" stroke="#ff7f00" stroke-width="1.4" stroke-linecap="round"/>
<circle cx="252.1" cy="660.4" r="1.7" fill="#ff7f00" />
<circle cx="275.0" cy="658.1" r="1.7" fill="#ff7f00" />
<line x1="252.1" y1="634.2" x2="275.0" y2="641.9" stroke="#ffff33" stroke-width="1.4" stroke-linecap="round"/>
<circle cx="252.1" cy="634.2" r="1.7" fill="#ffff33" />
<circle cx="275.0" cy="641.9" r="1.7" fill="#ffff33" />
<line x1="252.1" y1="645.2" x2="275.0" y2="644.7" stroke="#a65628" stroke-width="1.4" stroke-linecap="round"/>
<circle cx="252.1" cy="645.2" r="1.7" fill="#a65628" />
<circle cx="275.0" cy="644.7" r="1.7" fill="#a65628" />
<line x1="252.1" y1="640.8" x2="275.0" y2="643.6" stroke="#f781bf" stroke-width="1.4" stroke-linecap="round"/>
<circle cx="252.1" cy="640.8" r="1.7" fill="#f781bf" />
<circle cx="275.0" cy="643.6" r="1.7" fill="#f781bf" />
<line x1="252.1" y1="641.9" x2="275.0" y2="644.3" stroke="#999999" stroke-width="1.4" stroke-linecap="round"/>
<circle cx="252.1" cy="641.9" r="1.7" fill="#999999" />
<circle cx="275.0" cy="644.3" r="1.7" fill="#999999" />
<line x1="252.1" y1="617.9" x2="275.0" y2="612.7" stroke="#e41a1c" stroke-width="1.4" stroke-linecap="round"/>
<circle cx="252.1" cy="617.9" r="1.7" fill="#e41a1c" />
<circle cx="275.0" cy="612.7" r="1.7" fill="#e41a1c" />
<line x1="252.1" y1="640.0" x2="275.0" y2="637.3" stroke="#377eb8" stroke-width="1.4" stroke-linecap="round"/>
<circle cx="252.1" cy="640.0" r="1.7" fill="#377eb8" />
<circle cx="275.0" cy="637.3" r="1.7" fill="#377eb8" />
<line x1="252.1" y1="639.6" x2="275.0" y2="636.6" stroke="#4daf4a" stroke-width="1.4" stroke-linecap="round"/>
<circle cx="252.1" cy="639.6" r="1.7" fill="#4daf4a" />
<circle cx="275.0" cy="636.6" r="1.7" fill="#4daf4a" />
<line x1="252.1" y1="637.7" x2="275.0" y2="636.1" stroke="#984ea3" stroke-width="1.4" stroke-linecap="round"/>
<circle cx="252.1" cy="637.7" r="1.7" fill="#984ea3" />
<circle cx="275.0" cy="636.1" r="1.7" fill="#984ea3" />
<line x1="238.3" y1="587.5" x2="238.3" y2="664.1" stroke="#000" stroke-width="1.2" />
<line x1="237.7" y1="663.4" x2="289.2" y2="663.4" stroke="#000" stroke-width="1.4" />
<line x1="235.9" y1="592.7" x2="238.3" y2="592.7" stroke="#000" stroke-width="0.8" />
<text x="235.6" y="595.1" font-size="6.9" font-weight="700" text-anchor="end" fill="#000" textLength="3.2" lengthAdjust="spacingAndGlyphs">5</text>
<line x1="235.9" y1="606.2" x2="238.3" y2="606.2" stroke="#000" stroke-width="0.8" />
<text x="235.6" y="608.6" font-size="6.9" font-weight="700" text-anchor="end" fill="#000" textLength="3.2" lengthAdjust="spacingAndGlyphs">4</text>
<line x1="235.9" y1="619.5" x2="238.3" y2="619.5" stroke="#000" stroke-width="0.8" />
<text x="235.6" y="621.9" font-size="6.9" font-weight="700" text-anchor="end" fill="#000" textLength="3.2" lengthAdjust="spacingAndGlyphs">3</text>
<line x1="235.9" y1="632.6" x2="238.3" y2="632.6" stroke="#000" stroke-width="0.8" />
<text x="235.6" y="635.0" font-size="6.9" font-weight="700" text-anchor="end" fill="#000" textLength="3.2" lengthAdjust="spacingAndGlyphs">2</text>
<line x1="235.9" y1="645.9" x2="238.3" y2="645.9" stroke="#000" stroke-width="0.8" />
<text x="235.6" y="648.3" font-size="6.9" font-weight="700" text-anchor="end" fill="#000" textLength="3.2" lengthAdjust="spacingAndGlyphs">1</text>
<line x1="235.9" y1="659.2" x2="238.3" y2="659.2" stroke="#000" stroke-width="0.8" />
<text x="235.6" y="661.6" font-size="6.9" font-weight="700" text-anchor="end" fill="#000" textLength="3.2" lengthAdjust="spacingAndGlyphs">0</text>
<line x1="252.1" y1="663.4" x2="252.1" y2="665.6" stroke="#000" stroke-width="1.0" />
<line x1="275.0" y1="663.4" x2="275.0" y2="665.6" stroke="#000" stroke-width="1.0" />
<text x="250.4" y="599.9" font-size="7.4" font-style="italic" fill="#2a2a2a" textLength="26.9" lengthAdjust="spacingAndGlyphs">p=0.0267</text>
<line x1="251.9" y1="602.7" x2="275.6" y2="602.7" stroke="#404040" stroke-width="1.7" />
<text x="238.2" y="672.3" font-size="8.0" font-weight="700" fill="#000" textLength="24.2" lengthAdjust="spacingAndGlyphs">control</text>
<text x="265.4" y="672.3" font-size="8.0" font-weight="700" fill="#000" textLength="24.4" lengthAdjust="spacingAndGlyphs">IL-12Fc</text>
<text x="269.2" y="680.4" font-size="8.0" font-weight="700" fill="#000" textLength="16.6" lengthAdjust="spacingAndGlyphs">NHQ</text>
<text x="333.4" y="586.4" font-size="9.7" font-weight="700" text-anchor="middle" fill="#000" textLength="36.7" lengthAdjust="spacingAndGlyphs">ICOSLG</text>
<rect x="312.7" y="620.9" width="17.0" height="10.5" fill="#cbcbcb" stroke="#333" stroke-width="1.3" />
<line x1="312.7" y1="630.3" x2="329.7" y2="630.3" stroke="#333" stroke-width="1.3" />
<rect x="335.1" y="622.6" width="16.8" height="10.9" fill="#f4a07c" stroke="#333" stroke-width="1.3" />
<line x1="335.1" y1="631.2" x2="351.9" y2="631.2" stroke="#333" stroke-width="1.3" />
<line x1="321.1" y1="612.7" x2="321.1" y2="620.9" stroke="#3a3a3a" stroke-width="1.1" />
<line x1="321.1" y1="631.4" x2="321.1" y2="633.1" stroke="#3a3a3a" stroke-width="1.1" />
<line x1="343.7" y1="616.3" x2="343.7" y2="622.6" stroke="#3a3a3a" stroke-width="1.1" />
<line x1="343.7" y1="633.5" x2="343.7" y2="637.7" stroke="#3a3a3a" stroke-width="1.1" />
<line x1="321.1" y1="659.9" x2="343.7" y2="656.0" stroke="#ff7f00" stroke-width="1.4" stroke-linecap="round"/>
<circle cx="321.1" cy="659.9" r="1.7" fill="#ff7f00" />
<circle cx="343.7" cy="656.0" r="1.7" fill="#ff7f00" />
<line x1="321.1" y1="631.9" x2="343.7" y2="634.2" stroke="#ffff33" stroke-width="1.4" stroke-linecap="round"/>
<circle cx="321.1" cy="631.9" r="1.7" fill="#ffff33" />
<circle cx="343.7" cy="634.2" r="1.7" fill="#ffff33" />
<line x1="321.1" y1="631.2" x2="343.7" y2="637.7" stroke="#a65628" stroke-width="1.4" stroke-linecap="round"/>
<circle cx="321.1" cy="631.2" r="1.7" fill="#a65628" />
<circle cx="343.7" cy="637.7" r="1.7" fill="#a65628" />
<line x1="321.1" y1="633.1" x2="343.7" y2="632.6" stroke="#f781bf" stroke-width="1.4" stroke-linecap="round"/>
<circle cx="321.1" cy="633.1" r="1.7" fill="#f781bf" />
<circle cx="343.7" cy="632.6" r="1.7" fill="#f781bf" />
<line x1="321.1" y1="630.3" x2="343.7" y2="631.9" stroke="#999999" stroke-width="1.4" stroke-linecap="round"/>
<circle cx="321.1" cy="630.3" r="1.7" fill="#999999" />
<circle cx="343.7" cy="631.9" r="1.7" fill="#999999" />
<line x1="321.1" y1="620.7" x2="343.7" y2="622.6" stroke="#377eb8" stroke-width="1.4" stroke-linecap="round"/>
<circle cx="321.1" cy="620.7" r="1.7" fill="#377eb8" />
<circle cx="343.7" cy="622.6" r="1.7" fill="#377eb8" />
<line x1="321.1" y1="624.2" x2="343.7" y2="624.9" stroke="#4daf4a" stroke-width="1.4" stroke-linecap="round"/>
<circle cx="321.1" cy="624.2" r="1.7" fill="#4daf4a" />
<circle cx="343.7" cy="624.9" r="1.7" fill="#4daf4a" />
<line x1="321.1" y1="612.7" x2="343.7" y2="616.3" stroke="#984ea3" stroke-width="1.4" stroke-linecap="round"/>
<circle cx="321.1" cy="612.7" r="1.7" fill="#984ea3" />
<circle cx="343.7" cy="616.3" r="1.7" fill="#984ea3" />
<line x1="307.5" y1="586.8" x2="307.5" y2="664.1" stroke="#000" stroke-width="1.2" />
<line x1="306.9" y1="663.4" x2="356.8" y2="663.4" stroke="#000" stroke-width="1.4" />
<line x1="305.1" y1="596.4" x2="307.5" y2="596.4" stroke="#000" stroke-width="0.8" />
<text x="304.8" y="598.8" font-size="6.9" font-weight="700" text-anchor="end" fill="#000" textLength="3.2" lengthAdjust="spacingAndGlyphs">6</text>
<line x1="305.1" y1="617.4" x2="307.5" y2="617.4" stroke="#000" stroke-width="0.8" />
<text x="304.8" y="619.8" font-size="6.9" font-weight="700" text-anchor="end" fill="#000" textLength="3.2" lengthAdjust="spacingAndGlyphs">4</text>
<line x1="305.1" y1="638.2" x2="307.5" y2="638.2" stroke="#000" stroke-width="0.8" />
<text x="304.8" y="640.6" font-size="6.9" font-weight="700" text-anchor="end" fill="#000" textLength="3.2" lengthAdjust="spacingAndGlyphs">2</text>
<line x1="305.1" y1="658.8" x2="307.5" y2="658.8" stroke="#000" stroke-width="0.8" />
<text x="304.8" y="661.2" font-size="6.9" font-weight="700" text-anchor="end" fill="#000" textLength="3.2" lengthAdjust="spacingAndGlyphs">0</text>
<line x1="321.1" y1="663.4" x2="321.1" y2="665.6" stroke="#000" stroke-width="1.0" />
<line x1="343.7" y1="663.4" x2="343.7" y2="665.6" stroke="#000" stroke-width="1.0" />
<text x="318.5" y="599.9" font-size="7.4" font-style="italic" fill="#2a2a2a" textLength="26.4" lengthAdjust="spacingAndGlyphs">p=0.0291</text>
<line x1="320.9" y1="602.7" x2="344.3" y2="602.7" stroke="#404040" stroke-width="1.7" />
<text x="307.0" y="672.3" font-size="8.0" font-weight="700" fill="#000" textLength="23.4" lengthAdjust="spacingAndGlyphs">control</text>
<text x="333.4" y="672.3" font-size="8.0" font-weight="700" fill="#000" textLength="24.4" lengthAdjust="spacingAndGlyphs">IL-12Fc</text>
<text x="338.0" y="680.4" font-size="8.0" font-weight="700" fill="#000" textLength="16.4" lengthAdjust="spacingAndGlyphs">NHQ</text>
<text x="366.0" y="504.4" font-size="12.0" font-weight="700" fill="#000" textLength="55.4" lengthAdjust="spacingAndGlyphs">Patient ID</text>
<circle cx="376.0" cy="514.3" r="3.6" fill="#ff7f00" />
<text x="384.6" y="517.9" font-size="10.2" font-weight="700" fill="#000" textLength="16.3" lengthAdjust="spacingAndGlyphs">610</text>
<circle cx="376.0" cy="531.7" r="3.6" fill="#ffff33" />
<text x="384.6" y="535.3" font-size="10.2" font-weight="700" fill="#000" textLength="16.3" lengthAdjust="spacingAndGlyphs">611</text>
<circle cx="376.0" cy="549.0" r="3.6" fill="#a65628" />
<text x="384.6" y="552.6" font-size="10.2" font-weight="700" fill="#000" textLength="16.3" lengthAdjust="spacingAndGlyphs">616</text>
<circle cx="376.0" cy="566.4" r="3.6" fill="#f781bf" />
<text x="384.6" y="570.0" font-size="10.2" font-weight="700" fill="#000" textLength="16.3" lengthAdjust="spacingAndGlyphs">622</text>
<circle cx="376.0" cy="583.7" r="3.6" fill="#999999" />
<text x="384.6" y="587.3" font-size="10.2" font-weight="700" fill="#000" textLength="16.3" lengthAdjust="spacingAndGlyphs">628</text>
<circle cx="376.0" cy="601.1" r="3.6" fill="#e41a1c" />
<text x="384.6" y="604.7" font-size="10.2" font-weight="700" fill="#000" textLength="21.6" lengthAdjust="spacingAndGlyphs">2028</text>
<circle cx="376.0" cy="618.4" r="3.6" fill="#377eb8" />
<text x="384.6" y="622.0" font-size="10.2" font-weight="700" fill="#000" textLength="21.6" lengthAdjust="spacingAndGlyphs">2030</text>
<circle cx="376.0" cy="635.8" r="3.6" fill="#4daf4a" />
<text x="384.6" y="639.4" font-size="10.2" font-weight="700" fill="#000" textLength="21.6" lengthAdjust="spacingAndGlyphs">2038</text>
<circle cx="376.0" cy="653.1" r="3.6" fill="#984ea3" />
<text x="384.6" y="656.7" font-size="10.2" font-weight="700" fill="#000" textLength="21.6" lengthAdjust="spacingAndGlyphs">2046</text>
</g>
</g>
</svg></body></html>
